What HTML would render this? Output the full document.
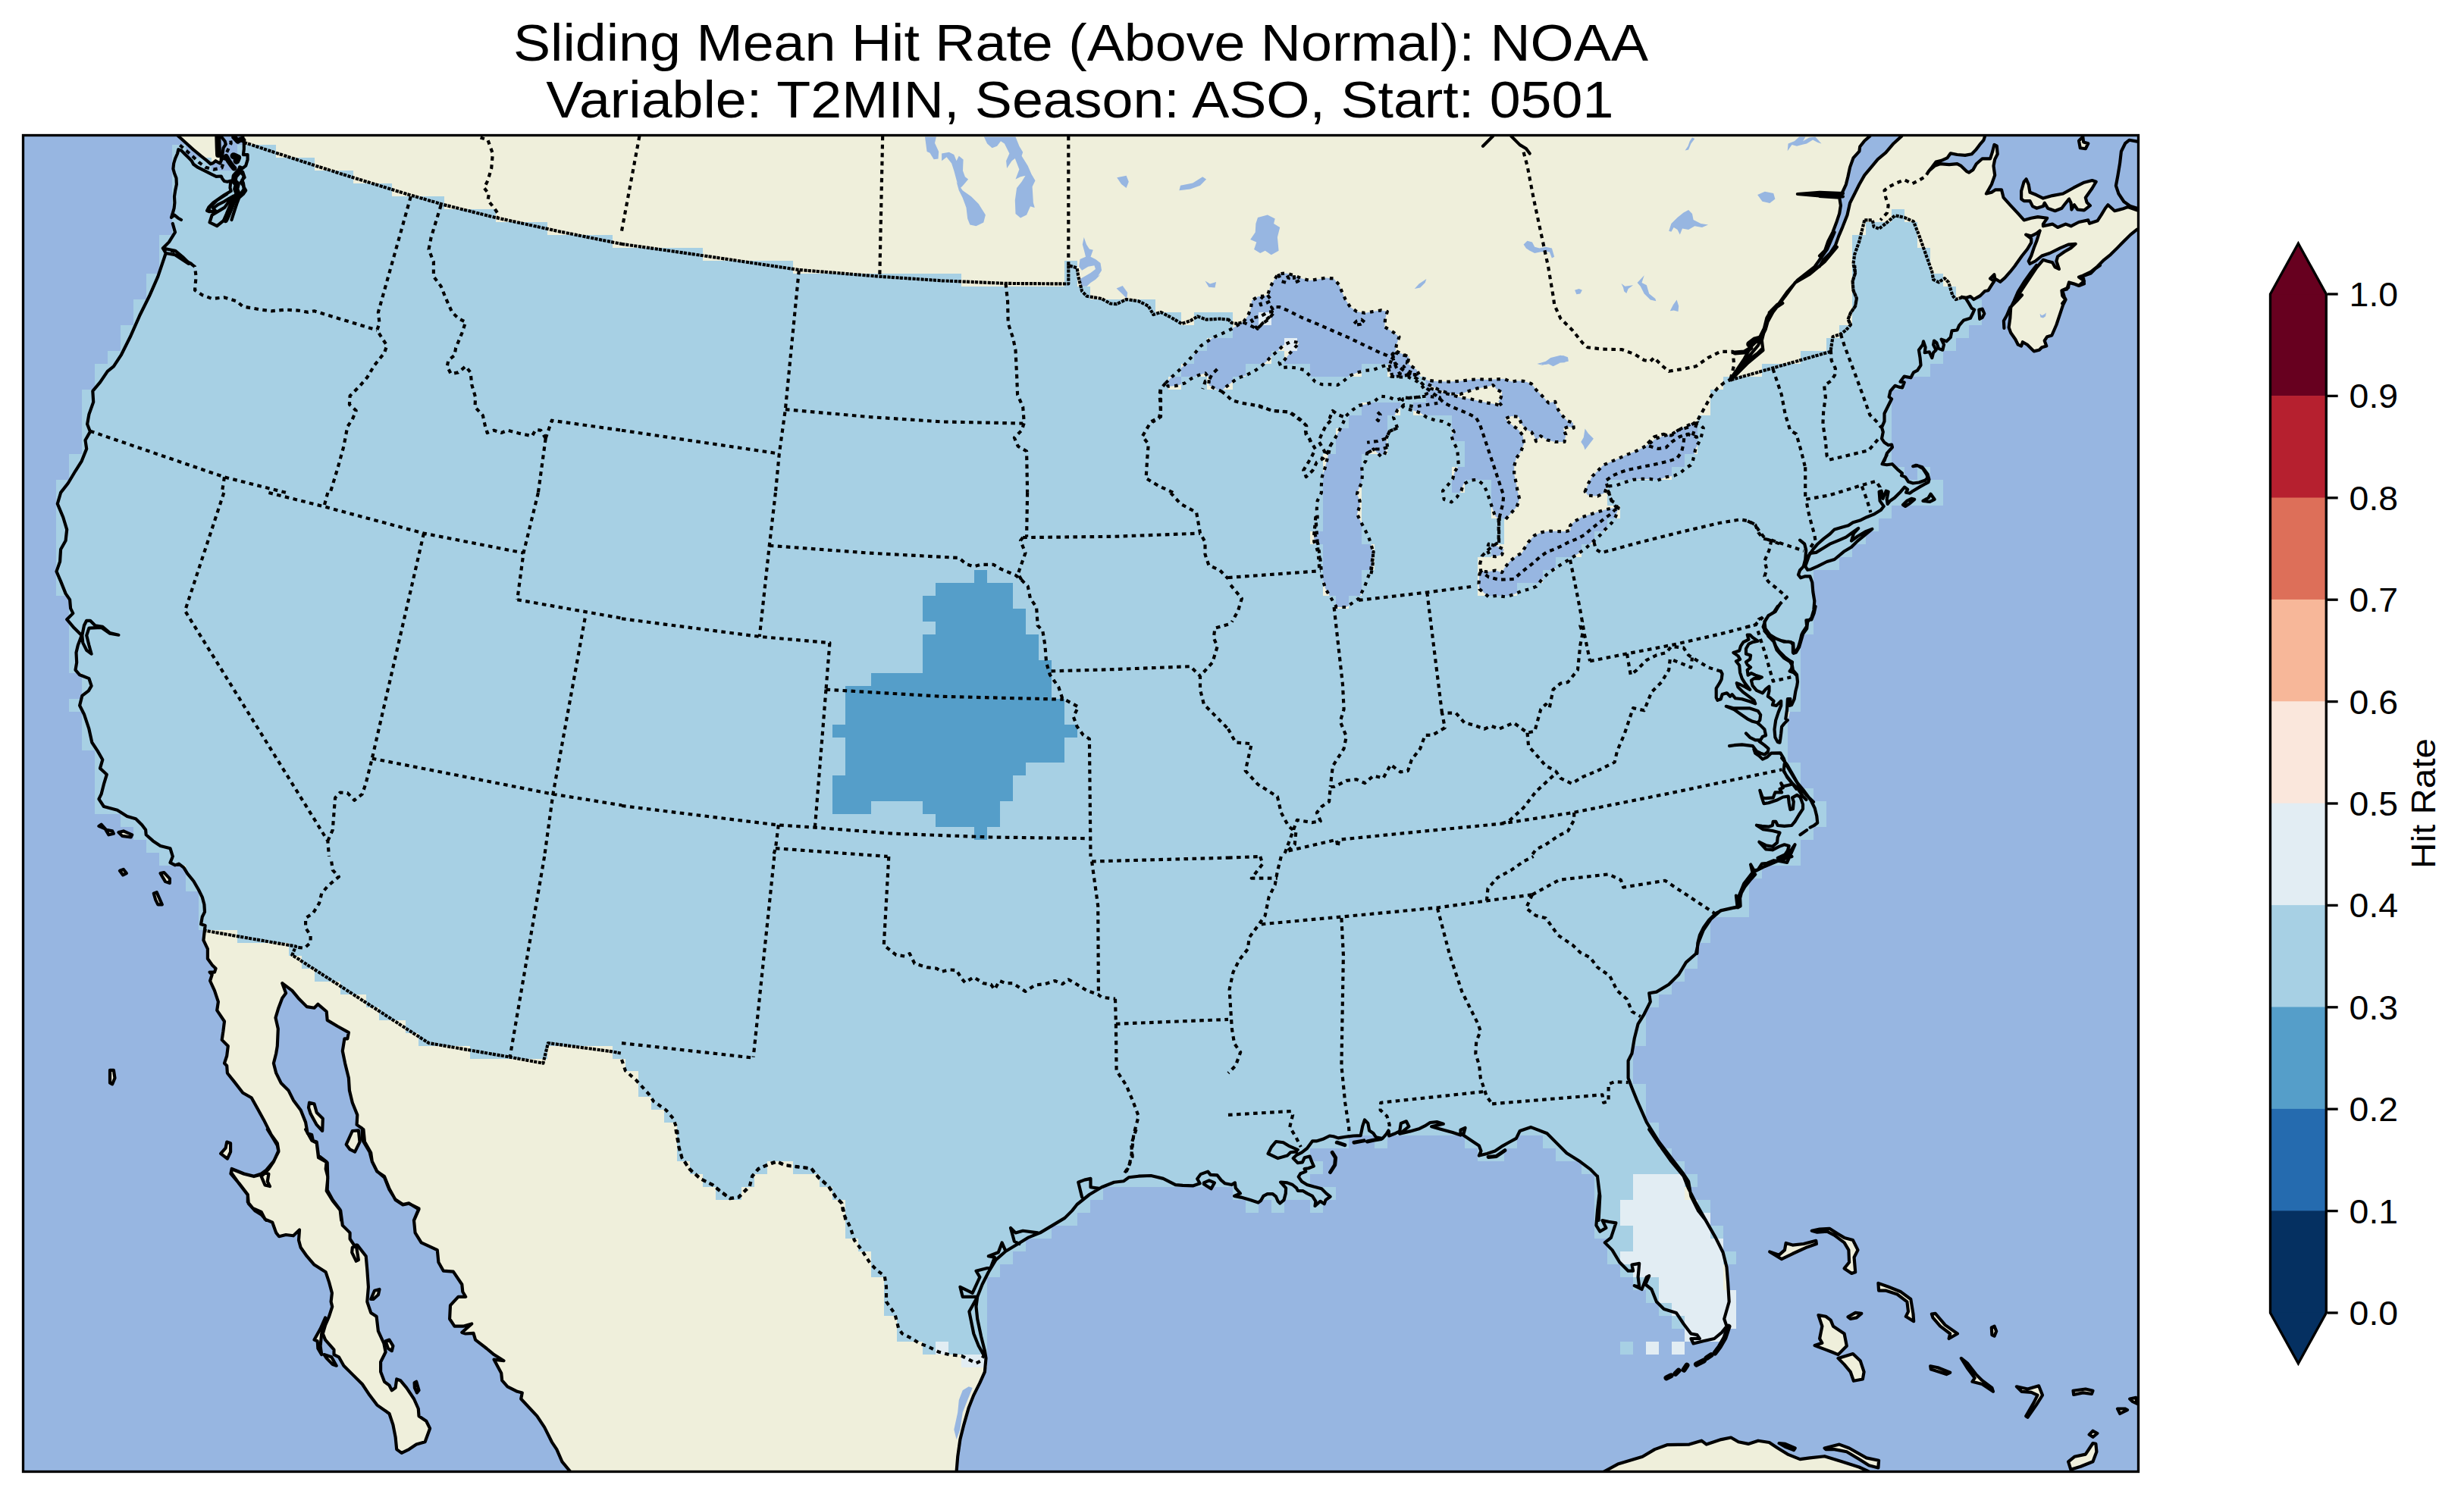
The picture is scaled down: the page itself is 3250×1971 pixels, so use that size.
<!DOCTYPE html>
<html><head><meta charset="utf-8"><title>Sliding Mean Hit Rate</title>
<style>
html,body{margin:0;padding:0;background:#fff}
svg{display:block}
text{font-family:"Liberation Sans",sans-serif;fill:#000}
</style></head><body>
<svg xmlns="http://www.w3.org/2000/svg" width="3250" height="1971" viewBox="0 0 3250 1971">
<rect width="3250" height="1971" fill="#fff"/>
<defs><clipPath id="fr"><rect x="30.5" y="178.5" width="2790.0" height="1763.0"/></clipPath></defs>
<g clip-path="url(#fr)">
<rect x="30.5" y="178.5" width="2790.0" height="1763.0" fill="#97b6e1"/>
<path d="M322.0 178.5 L2466.3 178.5 L2466.3 179.6 L2459.3 185.7 L2453.2 193.6 L2452.4 199.7 L2444.5 208.4 L2440.1 220.6 L2437.5 232.8 L2434.9 243.3 L2429.7 254.6 L2424.4 257.3 L2400.0 255.5 L2400.0 259.0 L2426.2 260.7 L2427.9 271.2 L2426.2 281.7 L2422.7 292.2 L2417.5 306.1 L2411.3 318.3 L2407.0 330.6 L2400.0 337.5 L2393.0 352.0 L2400.0 351.5 L2405.2 342.8 L2414.0 334.0 L2420.9 323.6 L2425.3 311.4 L2430.5 299.1 L2436.6 283.4 L2440.1 267.7 L2445.4 257.3 L2452.4 243.3 L2459.3 231.1 L2468.1 220.6 L2476.8 210.1 L2487.3 201.4 L2497.7 189.2 L2508.2 179.6 L2508.2 178.5 L2618.1 178.5 L2618.1 179.6 L2616.4 184.8 L2611.2 190.9 L2605.9 197.9 L2600.7 203.2 L2592.0 204.9 L2581.5 204.0 L2572.8 202.3 L2568.4 208.4 L2560.6 211.9 L2553.6 213.6 L2548.3 220.6 L2544.0 225.8 L2551.8 218.9 L2558.8 216.2 L2571.0 217.1 L2581.5 216.2 L2586.7 218.9 L2593.7 225.8 L2597.2 227.6 L2602.4 224.1 L2606.8 216.2 L2614.7 209.3 L2625.1 209.3 L2627.7 201.4 L2630.4 190.9 L2633.8 192.7 L2634.7 203.2 L2631.2 210.1 L2629.5 218.9 L2631.2 231.1 L2626.9 243.3 L2619.9 255.5 L2626.9 253.8 L2632.1 250.3 L2640.0 250.3 L2642.6 260.7 L2651.3 270.3 L2661.8 281.7 L2669.6 290.4 L2679.2 287.8 L2687.9 286.1 L2700.2 287.8 L2694.9 295.6 L2694.9 298.3 L2707.1 295.6 L2714.1 300.0 L2724.6 295.6 L2731.6 298.3 L2742.0 293.0 L2754.3 290.4 L2756.0 294.8 L2766.5 291.3 L2771.7 283.4 L2776.9 274.7 L2780.4 270.3 L2789.2 278.2 L2799.6 275.6 L2806.6 273.0 L2818.8 277.3 L2820.5 277.3 L2820.5 302.6 L2810.1 309.6 L2801.4 318.3 L2792.7 327.1 L2783.9 335.8 L2775.2 342.8 L2766.5 351.5 L2757.8 358.5 L2747.3 363.7 L2742.0 365.5 L2749.0 370.7 L2742.0 376.8 L2735.1 374.2 L2729.0 372.4 L2728.1 379.4 L2720.2 382.9 L2722.8 391.6 L2724.6 395.1 L2720.2 400.4 L2719.4 383.2 L2720.2 390.1 L2724.6 395.4 L2721.1 402.4 L2717.6 412.8 L2712.4 428.5 L2706.3 442.5 L2700.2 444.2 L2696.7 449.5 L2699.3 456.5 L2693.2 458.2 L2689.7 461.7 L2682.7 463.4 L2674.0 454.7 L2667.9 451.2 L2666.1 456.5 L2661.8 454.7 L2658.3 447.7 L2652.2 439.0 L2649.6 432.0 L2651.3 419.8 L2652.2 405.8 L2656.5 397.1 L2661.8 384.9 L2670.5 370.9 L2679.2 358.7 L2675.7 368.9 L2686.2 353.2 L2694.9 342.8 L2700.2 344.5 L2707.1 346.3 L2710.6 352.4 L2715.9 355.0 L2712.4 344.5 L2714.1 338.4 L2722.8 332.3 L2731.6 327.1 L2737.7 321.8 L2728.1 322.7 L2717.6 327.1 L2703.7 334.0 L2693.2 337.5 L2684.5 344.5 L2677.5 348.0 L2675.7 344.5 L2679.2 337.5 L2682.7 327.1 L2686.2 318.3 L2690.6 304.4 L2686.2 307.9 L2679.2 311.4 L2672.2 309.6 L2679.2 314.8 L2679.2 320.1 L2674.0 328.8 L2667.0 337.5 L2658.3 350.0 L2651.3 358.7 L2644.3 366.6 L2638.2 371.8 L2631.2 367.5 L2630.4 362.2 L2625.1 367.5 L2630.4 370.9 L2626.9 376.2 L2622.5 383.2 L2618.1 384.0 L2612.0 390.1 L2603.3 395.0 L2598.9 391.0 L2593.7 392.8 L2592.8 393.6 L2597.2 400.6 L2600.7 406.7 L2604.2 408.5 L2602.4 412.8 L2598.9 419.8 L2590.2 422.4 L2584.1 429.4 L2581.5 435.5 L2574.5 436.4 L2572.8 445.1 L2567.5 450.3 L2560.6 447.7 L2564.0 454.7 L2562.3 461.7 L2557.1 459.9 L2554.4 452.1 L2551.0 449.5 L2550.1 454.7 L2553.6 461.7 L2550.1 465.2 L2548.3 472.2 L2544.8 464.3 L2538.7 465.2 L2539.6 458.2 L2537.0 450.3 L2536.1 454.7 L2530.9 461.7 L2532.6 472.2 L2533.5 481.8 L2529.1 488.7 L2523.9 491.4 L2520.4 498.3 L2511.7 496.6 L2506.5 503.6 L2511.7 504.4 L2509.1 511.4 L2504.7 510.6 L2499.5 508.8 L2493.4 515.8 L2491.6 523.6 L2495.1 526.3 L2490.7 535.0 L2485.5 545.5 L2485.5 555.9 L2482.0 563.8 L2483.8 569.9 L2482.0 578.6 L2485.5 583.8 L2490.7 587.3 L2495.1 586.5 L2496.0 590.0 L2489.0 597.8 L2485.5 607.9 L2488.7 600.0 L2482.6 612.2 L2495.8 612.2 L2509.0 624.4 L2517.1 635.5 L2531.3 636.5 L2542.5 630.4 L2536.4 618.3 L2527.3 613.8 L2535.4 616.2 L2544.5 632.5 L2551.6 658.8 L2545.5 661.9 L2533.4 660.9 L2521.2 657.8 L2510.0 665.9 L2498.9 660.9 L2489.7 664.9 L2484.7 668.0 L2480.6 673.1 L2472.5 678.1 L2462.3 682.2 L2454.2 686.2 L2451.2 697.0 L2469.4 698.0 L2460.3 705.5 L2450.2 713.6 L2442.0 721.8 L2431.9 727.8 L2419.7 738.0 L2409.6 741.0 L2397.4 747.1 L2388.3 751.2 L2384.2 751.8 L2381.2 760.3 L2387.3 760.3 L2390.3 768.4 L2391.3 780.6 L2393.3 792.8 L2392.3 805.0 L2389.3 815.1 L2384.2 820.2 L2383.2 829.3 L2378.1 836.4 L2376.1 843.5 L2373.1 853.7 L2369.0 860.8 L2365.9 861.8 L2360.6 871.6 L2364.0 873.3 L2363.2 882.0 L2365.8 887.3 L2370.2 891.6 L2371.0 899.5 L2370.2 904.7 L2368.4 911.7 L2366.7 922.2 L2363.2 930.0 L2357.9 950.1 L2353.6 954.4 L2350.1 958.8 L2349.2 967.5 L2348.3 974.5 L2347.5 979.7 L2348.3 993.4 L2352.7 1000.7 L2355.3 1007.7 L2357.1 1008.7 L2364.0 1020.9 L2371.0 1033.2 L2379.7 1043.6 L2388.5 1055.8 L2393.7 1066.3 L2396.3 1076.8 L2397.2 1085.5 L2392.8 1089.0 L2387.6 1091.6 L2374.5 1101.2 L2367.5 1114.3 L2357.1 1137.9 L2348.3 1136.1 L2339.6 1135.2 L2330.9 1138.7 L2323.9 1139.6 L2318.7 1147.5 L2315.2 1153.6 L2308.2 1161.4 L2301.2 1170.2 L2296.9 1178.0 L2295.1 1185.0 L2295.6 1195.5 L2283.8 1198.1 L2271.6 1200.7 L2262.8 1205.1 L2254.1 1213.8 L2247.1 1223.4 L2241.9 1233.8 L2239.3 1244.3 L2238.4 1257.9 L2223.9 1269.6 L2214.2 1285.8 L2201.2 1298.8 L2184.9 1308.6 L2175.2 1310.2 L2176.8 1321.6 L2168.7 1337.8 L2160.6 1350.8 L2155.7 1370.3 L2152.5 1389.7 L2147.6 1399.5 L2147.6 1422.2 L2152.5 1435.2 L2159.0 1451.4 L2171.9 1480.6 L2175.2 1490.0 L2188.2 1509.5 L2204.4 1532.2 L2220.6 1551.7 L2227.1 1567.9 L2236.9 1587.4 L2249.9 1610.1 L2262.9 1632.9 L2272.6 1652.3 L2277.5 1671.8 L2279.1 1691.3 L2280.7 1717.3 L2274.2 1740.0 L2277.5 1749.7 L2271.0 1757.9 L2261.2 1766.0 L2246.6 1769.2 L2233.6 1772.5 L2230.4 1766.0 L2241.8 1766.0 L2238.5 1761.1 L2230.4 1759.5 L2220.6 1746.5 L2210.9 1731.9 L2194.7 1727.0 L2184.9 1717.3 L2178.4 1701.0 L2170.3 1694.5 L2175.2 1683.2 L2171.9 1684.8 L2165.5 1701.0 L2155.7 1696.2 L2162.2 1697.8 L2160.6 1684.8 L2162.2 1666.9 L2152.5 1668.6 L2154.1 1676.7 L2147.6 1676.7 L2136.2 1665.3 L2126.5 1649.1 L2116.8 1639.4 L2124.9 1632.9 L2131.4 1613.4 L2121.6 1611.8 L2113.5 1610.1 L2118.4 1619.9 L2110.3 1624.7 L2105.4 1616.6 L2107.0 1597.1 L2109.6 1574.4 L2107.0 1551.7 L2107.0 1552.1 L2097.3 1542.3 L2084.3 1532.6 L2066.4 1521.2 L2051.8 1506.6 L2040.5 1495.3 L2019.4 1487.1 L2004.7 1492.0 L1999.9 1501.8 L1990.0 1507.2 L1982.3 1511.6 L1971.9 1518.5 L1961.4 1522.0 L1950.9 1524.6 L1953.5 1518.5 L1950.9 1511.6 L1940.4 1504.6 L1930.0 1497.6 L1932.6 1488.0 L1926.5 1490.6 L1926.5 1497.6 L1916.0 1494.1 L1900.3 1489.7 L1888.1 1486.2 L1903.8 1482.8 L1895.1 1480.1 L1886.3 1481.0 L1879.4 1485.4 L1872.4 1488.9 L1860.2 1492.4 L1846.2 1495.8 L1850.6 1492.4 L1858.4 1486.2 L1854.9 1479.3 L1847.9 1481.9 L1846.2 1492.4 L1839.2 1495.8 L1832.2 1498.5 L1831.4 1491.5 L1828.8 1495.8 L1823.5 1502.0 L1814.8 1500.2 L1811.3 1495.0 L1806.1 1491.5 L1804.3 1481.9 L1800.0 1477.5 L1797.3 1485.4 L1794.7 1498.1 L1785.1 1498.5 L1774.7 1499.7 L1765.1 1501.4 L1758.9 1499.3 L1753.7 1498.5 L1745.0 1502.8 L1736.3 1505.4 L1731.0 1505.4 L1724.0 1515.0 L1717.1 1520.3 L1710.1 1523.8 L1705.7 1528.1 L1711.8 1534.2 L1717.9 1533.4 L1720.6 1527.3 L1727.5 1525.5 L1730.2 1532.5 L1732.8 1538.6 L1725.8 1541.2 L1720.6 1542.1 L1722.3 1545.6 L1715.3 1548.2 L1712.7 1552.6 L1717.1 1558.7 L1724.0 1563.0 L1732.8 1565.6 L1743.2 1568.3 L1749.3 1574.4 L1754.6 1578.7 L1748.5 1583.1 L1746.7 1588.3 L1741.5 1584.8 L1734.5 1591.0 L1735.4 1584.8 L1731.0 1577.9 L1724.0 1574.4 L1718.8 1571.2 L1711.8 1570.9 L1710.1 1567.4 L1704.8 1563.0 L1697.9 1560.4 L1689.1 1559.5 L1696.1 1567.4 L1695.8 1574.4 L1693.5 1583.1 L1688.3 1587.5 L1685.6 1584.8 L1683.0 1578.7 L1678.7 1575.2 L1671.7 1575.2 L1666.5 1577.9 L1663.0 1584.0 L1659.5 1586.6 L1649.0 1583.1 L1636.8 1579.6 L1628.1 1577.9 L1635.9 1574.4 L1629.8 1567.4 L1628.9 1560.4 L1624.6 1563.0 L1624.6 1563.0 L1615.8 1561.3 L1610.6 1556.9 L1605.4 1550.3 L1596.6 1549.9 L1593.2 1545.6 L1583.6 1549.1 L1579.2 1555.2 L1582.7 1561.3 L1574.0 1564.3 L1560.0 1563.9 L1550.5 1563.1 L1534.3 1554.9 L1518.1 1551.0 L1501.8 1551.7 L1488.8 1553.3 L1482.3 1558.2 L1469.4 1559.8 L1453.1 1566.3 L1436.9 1576.0 L1420.6 1589.0 L1414.2 1597.1 L1404.4 1606.9 L1388.2 1616.6 L1371.9 1626.4 L1355.7 1632.9 L1342.7 1641.0 L1326.5 1650.7 L1313.5 1662.1 L1303.8 1678.3 L1295.6 1694.5 L1289.2 1710.8 L1287.5 1723.8 L1289.2 1740.0 L1294.0 1762.7 L1298.9 1782.2 L1300.5 1791.9 L1298.9 1809.8 L1292.4 1824.4 L1284.3 1840.6 L1277.8 1856.9 L1271.3 1879.6 L1266.4 1899.1 L1263.2 1921.8 L1261.6 1941.3 L1261.6 1941.5 L752.1 1941.5 L752.1 1941.3 L741.4 1928.3 L734.3 1912.1 L727.8 1902.3 L718.1 1882.9 L708.3 1868.2 L687.2 1845.5 L688.8 1837.4 L682.3 1835.8 L669.4 1829.3 L662.2 1821.2 L661.2 1811.4 L651.5 1793.6 L664.5 1795.2 L651.5 1787.1 L641.8 1779.0 L627.1 1767.6 L624.5 1758.8 L614.2 1759.5 L609.3 1757.9 L622.3 1746.5 L610.9 1749.7 L599.5 1749.7 L593.1 1740.0 L594.0 1722.1 L604.4 1710.8 L614.2 1710.8 L610.3 1704.3 L609.3 1694.5 L597.9 1677.7 L584.9 1676.7 L578.4 1665.3 L576.8 1649.1 L555.7 1639.4 L547.6 1626.4 L546.0 1610.1 L552.5 1595.5 L539.5 1587.4 L531.4 1589.0 L521.6 1582.5 L513.5 1569.5 L507.0 1553.3 L497.3 1545.2 L490.8 1532.2 L489.2 1520.8 L481.0 1506.2 L479.4 1490.0 L477.8 1488.8 L470.6 1483.9 L471.3 1470.9 L464.8 1454.7 L460.9 1438.4 L459.9 1422.2 L455.1 1402.7 L451.8 1386.5 L454.4 1370.3 L458.3 1370.3 L459.9 1362.1 L445.3 1354.0 L431.7 1345.9 L430.7 1334.5 L419.4 1324.8 L414.5 1329.7 L404.7 1328.1 L393.4 1316.7 L385.3 1306.9 L372.3 1297.2 L372.3 1297.2 L377.1 1310.2 L372.3 1316.7 L367.4 1329.7 L363.5 1342.7 L366.8 1357.3 L365.8 1380.0 L364.2 1389.7 L360.9 1402.7 L364.2 1415.7 L370.6 1428.7 L380.4 1438.4 L386.9 1451.4 L396.6 1464.4 L403.1 1480.6 L403.1 1490.0 L411.2 1504.6 L417.7 1507.9 L420.0 1527.3 L431.7 1533.8 L432.3 1554.9 L430.7 1571.2 L438.8 1584.2 L449.2 1597.1 L451.8 1616.6 L461.6 1626.4 L461.6 1634.5 L467.4 1643.2 L471.3 1642.6 L482.7 1657.2 L484.3 1675.1 L485.9 1697.8 L484.3 1717.3 L489.2 1731.9 L496.6 1736.8 L498.9 1756.2 L506.4 1772.5 L508.6 1783.8 L502.1 1796.8 L502.1 1809.8 L507.0 1822.8 L513.5 1827.7 L516.8 1834.2 L521.6 1830.9 L523.2 1819.5 L528.1 1821.2 L536.2 1830.9 L546.0 1845.5 L551.8 1858.5 L552.5 1868.2 L562.2 1874.7 L567.1 1884.5 L560.6 1902.3 L549.2 1905.6 L539.5 1912.1 L529.7 1916.9 L523.2 1912.1 L521.6 1895.8 L518.4 1879.6 L513.5 1865.0 L497.3 1853.6 L487.5 1840.6 L477.8 1826.0 L464.8 1813.1 L453.4 1801.7 L446.9 1790.3 L440.5 1787.1 L440.5 1780.6 L429.1 1767.6 L425.8 1759.5 L429.1 1748.1 L434.0 1736.8 L438.2 1723.8 L436.6 1717.3 L437.9 1705.9 L434.0 1691.3 L429.7 1678.3 L414.5 1668.6 L404.7 1657.2 L396.6 1645.8 L394.0 1636.1 L395.0 1622.5 L386.9 1630.3 L377.1 1629.0 L368.1 1631.2 L364.2 1626.4 L359.3 1612.7 L349.5 1608.5 L344.7 1598.8 L333.3 1593.9 L326.8 1585.8 L326.8 1576.0 L315.5 1561.4 L304.4 1548.4 L305.7 1541.9 L321.9 1548.4 L334.9 1551.7 L344.7 1548.4 L351.2 1543.6 L360.9 1532.2 L367.4 1519.2 L365.8 1511.1 L360.9 1503.0 L352.8 1490.0 L347.9 1477.4 L339.8 1462.8 L331.7 1448.2 L320.3 1441.7 L309.0 1427.1 L299.9 1415.7 L299.2 1406.0 L296.0 1402.7 L299.2 1393.0 L300.8 1380.0 L292.7 1371.9 L294.4 1360.5 L296.0 1347.5 L286.2 1332.9 L287.9 1321.6 L283.0 1306.9 L277.1 1294.0 L279.7 1285.8 L276.5 1282.6 L283.0 1282.6 L284.6 1277.7 L279.7 1272.9 L273.9 1264.7 L273.9 1251.8 L268.4 1240.4 L270.6 1220.9 L265.1 1219.3 L266.8 1209.5 L270.0 1203.1 L269.4 1193.3 L266.8 1183.6 L261.9 1173.8 L255.4 1162.5 L247.3 1152.7 L242.4 1144.6 L235.9 1139.7 L231.0 1141.4 L224.5 1138.1 L227.8 1130.0 L227.8 1129.9 L224.5 1119.2 L211.6 1115.9 L201.8 1109.4 L192.7 1101.3 L192.1 1094.8 L187.2 1088.3 L179.1 1080.2 L167.7 1076.9 L154.7 1068.8 L136.9 1064.0 L130.4 1054.2 L133.6 1047.7 L136.9 1034.7 L140.8 1021.8 L132.0 1013.6 L135.3 1002.3 L128.8 990.9 L121.3 979.5 L117.4 961.7 L110.9 942.2 L105.1 930.8 L108.3 917.9 L116.8 911.4 L120.6 904.9 L117.4 895.1 L105.1 890.3 L99.5 883.8 L101.2 874.0 L100.5 861.0 L102.8 851.3 L107.7 838.3 L97.9 828.6 L88.2 817.2 L96.3 809.1 L93.1 802.6 L92.1 791.2 L86.6 783.1 L80.1 766.9 L74.5 753.9 L79.1 740.9 L80.1 724.7 L86.6 713.3 L88.2 698.7 L83.3 682.5 L75.8 664.6 L80.1 650.0 L80.1 649.9 L89.8 637.5 L99.5 621.3 L107.7 608.3 L114.2 592.1 L112.5 580.7 L119.0 569.4 L115.1 559.6 L117.4 546.6 L123.2 530.4 L122.3 515.8 L132.0 504.4 L141.8 489.8 L149.9 483.3 L159.6 468.7 L172.6 442.7 L184.0 416.8 L196.9 390.8 L208.3 364.8 L218.7 334.0 L214.8 327.5 L222.9 319.4 L231.0 306.4 L227.8 295.0 L239.0 290.0 L234.9 287.7 L230.0 283.6 L226.0 286.9 L227.6 282.0 L229.6 274.7 L230.4 267.4 L230.0 259.3 L231.2 251.2 L232.9 243.1 L232.5 234.9 L230.0 228.4 L228.4 222.8 L229.2 215.5 L231.2 209.0 L234.1 202.5 L235.3 197.2 L235.3 197.2 L239.0 198.4 L243.8 203.3 L248.7 208.1 L252.8 212.2 L255.2 216.7 L260.1 220.3 L266.6 223.6 L273.1 226.8 L279.5 230.1 L285.2 232.9 L291.7 232.5 L293.3 235.7 L295.8 239.0 L299.8 239.8 L304.7 238.6 L303.9 243.1 L303.5 247.9 L304.7 252.0 L295.8 257.3 L289.3 261.7 L281.2 267.4 L275.5 273.1 L273.1 278.0 L276.3 279.2 L284.4 278.4 L281.2 274.7 L287.7 269.8 L305.0 260.0 L305.5 290.0 L308.0 282.0 L310.4 274.7 L312.8 267.4 L315.3 260.9 L320.9 256.0 L324.2 251.2 L321.8 247.1 L320.9 241.4 L319.3 237.4 L322.6 234.1 L320.1 226.8 L315.3 222.8 L316.1 220.3 L320.1 221.9 L324.2 218.7 L326.6 210.6 L326.6 204.1 L320.9 204.1 L321.8 196.8 L321.8 188.7 L320.1 179.7 Z" fill="#efefdb"/>
<path d="M235.7 178.9 L245.5 188.7 L255.2 197.6 L264.9 205.7 L273.1 212.2 L277.9 216.3 L281.2 215.0 L284.4 212.2 L287.7 214.2 L290.1 215.5 L291.7 212.2 L291.7 202.5 L290.9 194.4 L289.3 186.2 L288.5 178.9 Z" fill="#efefdb"/>
<path d="M130.4 1089.9 L138.5 1093.2 L143.4 1101.3 L149.9 1099.7 L148.2 1096.4 L140.1 1094.8 L133.6 1087.7 Z M156.4 1098.1 L162.9 1096.4 L174.2 1101.3 L172.6 1104.5 L161.2 1102.9 Z M344.7 1552.1 L349.5 1547.2 L354.4 1548.8 L352.8 1558.6 L356.0 1565.1 L349.5 1563.4 Z M291.1 1521.9 L297.6 1514.7 L299.2 1506.6 L304.1 1508.2 L304.1 1519.6 L299.9 1528.7 Z M145.0 1411.8 L149.9 1411.8 L151.5 1422.2 L148.2 1430.3 L145.0 1428.7 Z M158.0 1148.8 L162.9 1146.9 L166.8 1152.1 L162.2 1154.4 Z M211.6 1152.1 L216.4 1151.1 L223.9 1159.2 L223.9 1165.1 L218.1 1163.1 L214.8 1157.6 Z M202.8 1178.7 L206.7 1177.1 L211.6 1188.4 L213.8 1193.3 L208.3 1193.3 L205.1 1186.8 Z M456.7 1509.9 L464.8 1492.0 L472.9 1491.4 L474.5 1506.6 L468.1 1519.6 L461.6 1516.4 Z M408.0 1454.7 L414.5 1456.3 L417.7 1467.7 L425.8 1475.8 L425.2 1492.0 L417.7 1483.9 L409.6 1469.3 L407.0 1461.2 Z M414.5 1767.6 L422.6 1753.0 L429.1 1738.4 L429.7 1743.2 L424.2 1759.5 L422.6 1775.7 L424.2 1787.1 L419.4 1779.0 L418.7 1769.2 Z M427.5 1787.1 L437.2 1790.3 L443.7 1801.7 L438.8 1800.1 L430.7 1791.9 Z M464.8 1645.8 L469.7 1642.6 L472.9 1662.1 L469.7 1663.7 L464.2 1652.3 Z M489.2 1714.0 L494.0 1702.7 L500.5 1701.0 L498.9 1708.2 L492.4 1714.0 Z M508.6 1769.2 L513.5 1767.6 L518.4 1775.7 L516.8 1782.2 L511.9 1779.0 Z M546.6 1824.4 L549.2 1822.8 L552.5 1834.2 L549.9 1837.4 L546.9 1830.9 Z M2334.2 1651.4 L2349.8 1661.1 L2364.4 1654.0 L2383.9 1645.2 L2395.9 1641.0 L2395.3 1636.8 L2379.0 1641.0 L2364.4 1642.6 L2355.6 1640.0 L2354.0 1649.1 L2346.6 1655.6 Z M2389.7 1623.8 L2400.1 1621.5 L2413.1 1620.8 L2424.5 1628.0 L2432.6 1632.9 L2444.0 1636.1 L2450.5 1649.1 L2445.6 1658.8 L2447.2 1678.3 L2442.3 1679.9 L2432.6 1673.4 L2439.1 1665.3 L2438.4 1649.1 L2432.6 1639.4 L2419.6 1629.6 L2409.9 1624.7 L2396.9 1625.7 Z M2398.5 1735.1 L2408.2 1736.8 L2414.7 1741.6 L2418.0 1749.7 L2432.6 1759.5 L2435.8 1775.7 L2424.5 1787.1 L2416.4 1783.8 L2408.2 1780.6 L2393.6 1775.1 L2403.4 1771.8 L2400.1 1766.0 L2403.4 1749.7 Z M2424.5 1791.9 L2444.0 1786.1 L2453.7 1795.2 L2458.6 1809.8 L2456.9 1819.5 L2444.9 1821.8 L2440.7 1809.8 L2432.6 1800.1 Z M2477.4 1692.9 L2491.0 1697.8 L2507.3 1704.3 L2520.3 1714.0 L2523.5 1733.5 L2524.2 1743.2 L2513.8 1736.8 L2517.0 1730.3 L2515.4 1717.3 L2502.4 1707.5 L2487.8 1702.7 L2478.1 1702.7 Z M2437.5 1737.4 L2447.2 1731.9 L2455.3 1732.9 L2448.8 1738.4 L2440.7 1740.0 Z M2547.9 1733.5 L2552.7 1732.9 L2565.7 1748.1 L2581.9 1759.5 L2570.6 1766.0 L2572.2 1759.5 L2559.2 1749.7 L2549.5 1738.4 Z M2626.8 1751.4 L2630.6 1749.7 L2633.2 1756.2 L2630.6 1762.7 L2627.4 1761.1 Z M2546.2 1802.3 L2556.0 1804.3 L2572.2 1810.8 L2567.3 1813.1 L2552.7 1808.2 L2546.9 1806.6 Z M2586.8 1791.9 L2594.9 1798.4 L2606.3 1813.1 L2614.4 1821.2 L2627.4 1830.9 L2629.0 1835.8 L2614.4 1826.0 L2601.4 1822.8 L2604.7 1817.9 L2594.9 1804.9 Z M2659.9 1829.3 L2674.5 1832.5 L2689.1 1828.3 L2694.0 1840.6 L2685.8 1853.6 L2674.5 1869.9 L2672.2 1868.2 L2682.6 1850.4 L2687.5 1840.6 L2679.4 1836.8 L2666.4 1835.8 Z M2734.5 1834.8 L2750.8 1832.5 L2760.5 1834.8 L2758.9 1839.0 L2747.5 1837.4 L2735.2 1840.0 Z M2728.1 1928.3 L2736.2 1921.8 L2750.8 1918.6 L2760.5 1904.0 L2764.4 1904.9 L2765.4 1915.3 L2760.5 1928.3 L2744.3 1934.8 L2731.3 1938.7 Z M2755.6 1892.6 L2760.5 1887.7 L2766.4 1891.0 L2760.5 1895.8 Z M2793.0 1858.5 L2802.7 1858.5 L2806.0 1860.1 L2796.2 1865.0 Z M2809.2 1845.5 L2817.3 1843.9 L2819.0 1852.0 L2812.5 1848.8 Z M2346.6 1904.0 L2354.7 1904.9 L2367.7 1910.5 L2366.0 1913.1 L2354.7 1908.8 Z M2406.6 1910.5 L2426.1 1905.6 L2439.1 1910.5 L2461.8 1923.4 L2478.1 1926.7 L2477.4 1936.4 L2465.1 1933.2 L2452.1 1925.1 L2435.8 1915.3 L2419.6 1912.1 L2408.2 1912.1 Z M2381.2 747.1 L2387.3 729.9 L2395.4 728.9 L2405.5 722.8 L2413.6 717.7 L2425.8 712.6 L2434.9 708.6 L2442.0 703.5 L2451.2 697.0 L2445.1 703.5 L2442.0 713.6 L2450.2 707.5 L2460.3 701.5 L2469.4 698.0 L2460.3 705.5 L2450.2 713.6 L2442.0 721.8 L2431.9 727.8 L2419.7 738.0 L2409.6 741.0 L2397.4 747.1 L2388.3 751.2 L2384.2 751.8 Z M2510.0 665.9 L2515.1 660.9 L2521.2 657.8 L2525.2 658.8 L2519.2 663.9 L2513.1 668.0 Z M2536.4 660.9 L2543.5 656.8 L2546.6 651.7 L2551.6 658.8 L2545.5 661.9 Z M2610.3 408.5 L2614.7 407.6 L2617.3 413.7 L2614.7 418.9 L2611.2 420.7 Z M2666.1 262.5 L2666.1 252.0 L2669.6 239.8 L2672.6 236.3 L2675.7 243.3 L2677.5 253.8 L2686.2 257.3 L2694.9 261.6 L2707.1 258.1 L2721.1 255.5 L2735.1 247.7 L2749.0 240.7 L2759.5 238.1 L2764.7 239.8 L2759.5 248.5 L2750.8 260.7 L2752.5 266.9 L2756.9 271.2 L2749.0 277.3 L2740.3 276.5 L2735.9 270.3 L2732.4 276.5 L2731.6 267.7 L2729.0 262.5 L2722.8 270.3 L2719.4 274.7 L2710.6 278.2 L2701.0 274.7 L2696.7 267.7 L2694.9 272.1 L2686.2 274.7 L2681.0 272.1 L2677.5 265.1 L2669.6 265.1 Z M2742.0 185.7 L2747.3 180.5 L2748.2 187.5 L2754.3 189.2 L2750.8 196.2 L2743.8 195.3 Z M2096.0 1960.0 L2116.0 1941.3 L2133.9 1931.6 L2166.4 1921.8 L2182.6 1912.1 L2198.8 1906.2 L2228.1 1905.6 L2244.3 1900.7 L2250.8 1905.6 L2270.3 1899.1 L2283.2 1896.5 L2293.0 1902.3 L2306.0 1904.9 L2319.0 1900.7 L2333.6 1903.0 L2344.9 1910.5 L2357.9 1918.6 L2374.2 1925.1 L2387.1 1923.4 L2406.6 1921.2 L2429.4 1928.3 L2452.1 1935.5 L2465.1 1941.3 L2475.1 1960.0 Z M1587.9 1560.4 L1594.9 1557.3 L1601.9 1560.4 L1597.5 1568.3 L1587.9 1562.2 Z" fill="#efefdb"/>
<path d="M1220.0 180.4 L1234.9 180.4 L1233.0 188.8 L1238.2 199.9 L1237.5 209.6 L1231.7 210.3 L1226.5 201.8 L1222.6 199.9 Z M1242.1 202.5 L1251.8 200.8 L1258.3 204.1 L1261.6 212.2 L1264.8 205.7 L1270.6 210.6 L1270.0 225.2 L1272.9 233.3 L1277.1 236.6 L1269.7 245.3 L1266.4 248.6 L1262.2 239.8 L1258.3 225.2 L1255.1 215.5 L1248.6 207.3 L1242.1 212.2 Z M1261.6 239.8 L1269.7 251.2 L1281.0 259.3 L1290.8 269.0 L1299.9 283.6 L1297.3 293.4 L1287.5 298.2 L1279.4 296.6 L1276.2 288.5 L1274.5 273.9 L1269.7 260.9 L1264.8 251.2 Z M1297.9 180.4 L1339.5 180.4 L1344.4 192.7 L1349.2 200.8 L1347.6 205.7 L1355.7 218.7 L1360.6 230.1 L1365.5 238.2 L1361.6 246.3 L1362.9 267.4 L1364.8 273.9 L1359.0 272.3 L1354.1 283.6 L1346.0 287.5 L1339.5 282.0 L1338.8 264.2 L1341.1 247.9 L1347.6 239.8 L1352.5 231.7 L1346.0 233.3 L1339.5 236.6 L1344.4 223.6 L1338.8 209.0 L1334.6 212.2 L1328.1 221.9 L1327.1 212.2 L1331.4 202.5 L1324.9 189.5 L1320.0 186.2 L1315.1 192.7 L1308.6 195.3 L1302.1 189.5 Z M1473.2 234.3 L1485.6 231.7 L1488.8 239.8 L1485.6 247.9 L1479.1 243.1 Z M1555.4 251.2 L1557.0 244.7 L1573.2 241.4 L1586.2 233.3 L1591.1 236.6 L1583.0 244.7 L1570.0 249.5 Z M1589.5 370.6 L1596.0 374.5 L1604.1 371.9 L1602.5 379.4 L1594.4 378.8 Z M1472.6 380.4 L1480.7 377.1 L1487.2 385.9 L1486.2 394.0 L1480.7 388.2 Z M1659.0 286.9 L1671.9 283.6 L1681.7 288.5 L1680.1 295.0 L1688.2 299.9 L1684.9 312.9 L1686.6 330.7 L1676.8 336.2 L1668.7 330.7 L1662.2 334.0 L1654.1 329.1 L1657.3 319.4 L1649.2 316.1 L1655.7 306.4 L1656.4 295.0 Z M2318.1 257.0 L2327.8 252.8 L2339.2 255.1 L2341.4 262.5 L2334.3 268.1 L2324.5 265.8 Z M1269.7 1834.2 L1277.8 1829.3 L1282.7 1830.9 L1276.2 1847.1 L1269.7 1863.4 L1266.4 1886.1 L1261.6 1899.1 L1258.3 1886.1 L1263.2 1863.4 L1264.8 1847.1 Z M2690.6 413.7 L2693.2 416.3 L2696.7 414.6 L2698.8 412.5 L2698.1 417.2 L2694.9 419.5 L2691.4 418.4 Z M1537.5 505.4 L1546.2 496.7 L1554.9 488.8 L1561.9 481.8 L1568.9 474.0 L1576.7 465.2 L1583.7 456.5 L1592.4 450.4 L1602.0 444.3 L1612.5 439.9 L1623.0 434.7 L1631.7 429.5 L1640.4 424.2 L1645.6 417.3 L1650.0 406.8 L1651.2 396.3 L1659.6 391.1 L1666.6 390.7 L1672.2 389.0 L1675.3 378.9 L1679.7 371.0 L1685.8 361.4 L1696.3 360.5 L1706.7 363.2 L1717.2 367.5 L1727.7 370.1 L1738.1 368.4 L1748.6 366.6 L1759.1 367.5 L1766.1 375.4 L1770.4 385.8 L1774.8 395.4 L1780.9 405.0 L1789.6 411.1 L1800.1 412.9 L1810.6 411.1 L1821.9 409.4 L1829.8 411.1 L1827.1 420.7 L1826.3 431.2 L1837.6 438.2 L1845.5 444.3 L1842.0 454.8 L1840.2 465.2 L1848.1 467.9 L1858.6 470.5 L1856.8 479.2 L1851.6 483.6 L1855.1 488.8 L1862.0 491.4 L1868.2 494.0 L1856.8 494.9 L1848.1 495.8 L1836.7 497.5 L1834.1 487.1 L1832.4 480.4 L1822.8 483.6 L1811.4 487.9 L1801.0 488.8 L1790.5 491.4 L1780.0 495.8 L1772.2 502.8 L1764.3 508.0 L1753.8 507.1 L1743.4 507.1 L1734.7 503.6 L1727.7 495.8 L1719.8 487.9 L1709.3 485.3 L1698.0 484.4 L1690.2 485.3 L1687.5 478.3 L1692.8 476.6 L1699.7 467.9 L1706.7 460.0 L1713.7 452.2 L1703.2 450.4 L1692.8 455.6 L1684.9 463.5 L1677.1 469.6 L1671.0 476.6 L1663.1 483.6 L1654.4 489.7 L1643.9 494.9 L1633.4 498.4 L1624.7 504.5 L1616.9 510.6 L1610.7 515.9 L1602.0 512.4 L1594.2 508.0 L1595.0 499.3 L1589.8 492.3 L1581.1 494.9 L1571.5 499.3 L1562.8 505.4 L1551.4 508.9 L1540.9 509.7 Z M1841.9 463.5 L1857.6 470.5 L1855.8 479.2 L1868.9 487.9 L1873.3 497.5 L1883.8 501.9 L1897.7 503.3 L1911.7 503.6 L1925.6 502.8 L1939.6 501.0 L1950.1 500.1 L1960.6 501.0 L1971.0 500.5 L1983.2 499.8 L1993.7 503.6 L2000.7 502.4 L2009.4 502.8 L2019.9 506.2 L2026.0 514.1 L2033.8 522.0 L2042.6 531.6 L2051.3 529.8 L2053.0 536.8 L2058.3 545.5 L2067.0 555.1 L2074.9 557.7 L2075.7 564.7 L2068.8 563.0 L2061.8 565.6 L2065.3 573.4 L2063.5 583.0 L2051.3 583.0 L2040.8 580.4 L2032.1 575.2 L2026.0 582.2 L2024.2 576.1 L2019.9 569.9 L2012.9 566.5 L2006.8 559.5 L2003.3 549.9 L1993.7 549.0 L1985.0 552.5 L1993.7 560.3 L2002.4 566.5 L2008.5 574.3 L2010.3 584.8 L2005.9 596.1 L1999.8 604.8 L1997.2 615.3 L1997.2 625.8 L1999.8 637.1 L2001.6 647.6 L2004.2 658.1 L2000.7 668.5 L1992.8 677.3 L1985.9 685.1 L1978.0 685.1 L1971.9 680.8 L1968.4 670.3 L1964.9 659.8 L1961.4 649.3 L1957.1 639.7 L1948.3 632.8 L1939.6 633.6 L1930.0 638.9 L1927.4 647.6 L1921.3 656.3 L1914.3 662.4 L1904.7 658.9 L1903.0 647.6 L1909.9 639.7 L1916.1 631.9 L1918.7 622.3 L1923.9 614.4 L1923.0 603.1 L1922.2 592.6 L1916.9 583.0 L1914.3 574.3 L1917.8 569.9 L1913.4 561.2 L1903.0 556.0 L1892.5 554.2 L1882.0 550.7 L1873.3 544.6 L1862.8 541.1 L1852.4 538.5 L1847.1 533.3 L1850.6 526.3 L1861.1 524.6 L1873.3 523.7 L1882.0 519.3 L1876.8 510.6 L1869.8 503.6 L1857.6 497.5 L1845.4 497.5 L1834.9 496.6 L1831.4 486.2 L1834.9 475.7 L1836.6 467.0 Z M2090.6 648.5 L2094.9 638.0 L2100.2 628.4 L2107.1 621.4 L2115.0 613.6 L2124.6 609.2 L2135.1 604.8 L2146.4 599.6 L2156.0 596.1 L2166.5 590.9 L2175.2 585.6 L2183.9 578.7 L2194.4 575.2 L2206.6 571.7 L2218.8 564.7 L2230.0 559.5 L2239.8 557.7 L2246.8 564.7 L2243.3 578.7 L2236.3 592.6 L2232.8 608.3 L2230.0 613.6 L2224.1 617.1 L2217.1 623.2 L2208.4 627.5 L2197.9 629.3 L2186.5 633.6 L2176.1 631.9 L2165.6 631.9 L2154.3 632.8 L2142.9 636.3 L2131.6 640.6 L2119.4 641.5 L2116.7 650.2 L2107.1 654.6 L2094.9 653.7 Z M2090.6 565.6 L2094.9 571.7 L2101.9 578.7 L2096.7 585.6 L2090.6 593.5 L2088.8 588.3 L2085.3 583.0 L2088.8 576.9 Z M2027.7 479.2 L2033.8 480.6 L2040.0 477.5 L2044.3 473.1 L2053.0 470.5 L2061.8 469.1 L2067.9 471.3 L2068.8 475.7 L2063.5 478.3 L2054.8 478.8 L2047.8 482.7 L2045.2 479.5 L2039.1 480.9 Z M1792.6 534.9 L1802.2 533.2 L1812.7 529.7 L1820.6 522.7 L1831.0 523.6 L1841.5 527.9 L1852.0 524.4 L1860.7 525.3 L1871.2 523.6 L1881.6 522.7 L1899.1 524.4 L1899.1 531.4 L1865.9 536.6 L1852.0 534.0 L1843.2 541.0 L1838.0 550.6 L1841.5 560.2 L1843.2 564.6 L1832.8 568.9 L1828.4 578.5 L1830.2 589.9 L1825.8 600.3 L1822.3 603.0 L1811.8 592.5 L1803.1 597.7 L1801.4 608.2 L1796.1 615.2 L1797.0 625.6 L1796.1 637.0 L1790.9 647.5 L1790.0 651.8 L1793.5 660.6 L1793.5 667.5 L1790.0 678.0 L1794.4 687.6 L1799.6 697.2 L1804.8 707.7 L1808.3 717.3 L1811.0 727.7 L1811.0 739.1 L1810.1 749.6 L1808.3 757.9 L1811.6 727.9 L1808.3 750.6 L1800.2 773.4 L1792.1 789.6 L1775.8 801.0 L1762.9 801.0 L1758.0 792.9 L1748.2 776.6 L1743.4 760.4 L1741.8 740.9 L1738.5 718.2 L1733.6 701.9 L1735.3 682.5 L1740.3 752.2 L1740.3 746.1 L1740.3 734.7 L1736.8 723.4 L1733.3 714.7 L1733.3 703.3 L1735.9 692.8 L1737.7 682.4 L1736.8 671.9 L1737.7 660.6 L1742.9 650.1 L1742.9 639.6 L1743.8 629.1 L1747.3 618.7 L1752.5 597.7 L1755.1 587.3 L1759.5 580.3 L1764.7 571.6 L1771.7 557.6 L1775.2 548.9 L1783.9 541.0 Z M2134.7 669.7 L2125.9 670.6 L2117.2 672.4 L2108.5 675.0 L2098.0 678.5 L2087.5 682.0 L2077.9 687.2 L2071.0 693.3 L2071.8 699.4 L2065.7 701.1 L2056.1 701.1 L2044.8 700.6 L2034.3 702.0 L2023.8 706.4 L2016.0 715.1 L2009.9 724.7 L2008.1 729.1 L2000.3 733.4 L1991.6 740.4 L1984.6 749.1 L1981.1 755.2 L1972.4 752.6 L1961.9 754.4 L1953.2 753.5 L1951.4 757.9 L1950.5 770.1 L1951.4 777.1 L1963.6 787.5 L1974.1 785.8 L1986.3 787.5 L1996.8 784.0 L2007.3 779.7 L2017.7 777.1 L2026.5 773.6 L2033.4 764.8 L2041.3 757.0 L2050.9 750.0 L2060.5 743.9 L2070.1 737.8 L2082.3 729.9 L2091.0 723.8 L2100.6 715.1 L2110.2 706.4 L2117.2 698.5 L2125.9 689.8 L2131.2 681.1 Z M1967.1 718.6 L1974.1 720.3 L1983.7 724.7 L1981.1 731.7 L1972.4 734.3 L1965.4 733.4 L1961.0 724.7 L1963.6 717.7 Z M2009.6 322.6 L2014.5 317.7 L2021.0 319.4 L2024.2 325.8 L2030.7 327.5 L2038.8 325.8 L2046.9 327.5 L2050.2 338.8 L2046.9 340.5 L2043.7 332.3 L2032.3 332.3 L2024.2 334.0 L2017.7 330.7 L2012.9 327.5 Z M2201.2 304.7 L2204.4 295.0 L2212.5 286.9 L2220.6 280.4 L2227.1 277.1 L2232.0 282.0 L2233.6 290.1 L2243.4 295.0 L2253.1 296.6 L2245.0 299.9 L2235.3 298.2 L2227.1 303.1 L2219.0 301.5 L2215.8 309.6 L2212.5 303.1 L2207.7 299.9 L2204.4 305.7 Z M2168.7 363.2 L2165.5 372.9 L2171.9 376.2 L2175.2 387.5 L2183.3 394.0 L2184.3 397.3 L2176.8 395.6 L2168.7 387.5 L2163.8 377.8 L2159.6 372.9 Z M2138.5 373.9 L2143.4 377.8 L2154.1 376.2 L2147.6 381.0 L2145.3 386.9 L2142.1 384.3 L2141.1 379.4 Z M2202.8 410.3 L2207.0 402.1 L2211.6 395.6 L2214.2 403.8 L2213.5 410.9 L2207.7 409.6 Z M1865.8 381.0 L1871.6 374.5 L1881.4 368.1 L1879.7 372.9 L1873.2 379.4 Z M2077.1 382.7 L2082.7 381.0 L2086.9 382.7 L2084.3 387.5 L2079.4 388.2 Z M2232.0 181.4 L2235.3 183.0 L2230.4 189.5 L2227.1 197.6 L2222.6 198.6 L2226.5 192.7 L2228.8 186.2 Z M2357.7 199.2 L2358.6 189.5 L2366.8 186.2 L2373.2 180.4 L2381.4 180.4 L2378.1 186.2 L2386.2 181.4 L2394.4 180.4 L2402.5 189.5 L2397.6 187.9 L2391.1 184.6 L2383.0 189.5 L2376.5 191.1 L2370.0 192.7 L2363.5 191.1 Z M2027.5 480.1 L2038.8 476.8 L2045.3 471.9 L2058.3 468.7 L2068.1 471.9 L2068.7 476.8 L2058.3 478.4 L2048.6 483.3 L2042.1 480.1 L2034.0 481.7 Z M1429.7 312.9 L1433.0 322.6 L1436.9 328.4 L1441.8 329.7 L1438.5 338.8 L1445.0 342.1 L1451.5 346.9 L1453.1 356.7 L1448.2 364.2 L1451.5 362.2 L1445.0 368.7 L1438.5 372.9 L1433.6 377.8 L1426.5 377.8 L1424.5 368.1 L1430.4 364.8 L1438.5 359.9 L1445.0 355.1 L1443.4 350.2 L1435.3 351.8 L1427.1 356.7 L1423.2 351.8 L1424.5 342.1 L1432.0 338.8 L1430.4 332.3 L1427.8 322.6 Z" fill="#97b6e1"/>
<path d="M1883.8 507.1 L1897.7 514.1 L1911.7 519.3 L1925.6 520.2 L1937.9 515.8 L1948.3 512.4 L1960.6 510.6 L1969.3 508.0 L1974.5 514.1 L1981.5 517.6 L1979.7 524.6 L1976.3 529.8 L1981.5 535.9 L1972.8 533.3 L1962.3 531.6 L1950.1 528.9 L1939.6 526.3 L1927.4 524.6 L1915.2 521.1 L1901.2 517.6 L1887.3 512.4 Z" fill="#efefdb"/>
<g shape-rendering="crispEdges">
<path d="M227.4 191.0 H244.5 V208.0 H227.4 ZM312.7 191.0 H363.9 V208.0 H312.7 ZM227.4 208.0 H278.6 V225.0 H227.4 ZM312.7 208.0 H415.1 V225.0 H312.7 ZM227.4 225.0 H466.3 V242.0 H227.4 ZM227.4 242.0 H517.4 V259.0 H227.4 ZM227.4 259.0 H585.7 V276.0 H227.4 ZM227.4 276.0 H653.9 V293.0 H227.4 ZM2494.6 276.0 H2511.6 V293.0 H2494.6 ZM227.4 293.0 H722.2 V310.0 H227.4 ZM2460.5 293.0 H2528.6 V310.0 H2460.5 ZM210.4 310.0 H807.5 V327.0 H210.4 ZM2443.4 310.0 H2528.6 V327.0 H2443.4 ZM210.4 327.0 H926.9 V344.0 H210.4 ZM2443.4 327.0 H2545.7 V344.0 H2443.4 ZM210.4 344.0 H1046.3 V361.0 H210.4 ZM1404.3 344.0 H1421.4 V361.0 H1404.3 ZM2443.4 344.0 H2545.7 V361.0 H2443.4 ZM193.3 361.0 H1268.1 V378.0 H193.3 ZM1404.3 361.0 H1421.4 V378.0 H1404.3 ZM2443.4 361.0 H2562.7 V378.0 H2443.4 ZM193.3 378.0 H1438.4 V395.0 H193.3 ZM2443.4 378.0 H2579.7 V395.0 H2443.4 ZM176.2 395.0 H1523.6 V412.0 H176.2 ZM2443.4 395.0 H2613.8 V412.0 H2443.4 ZM176.2 412.0 H1557.7 V429.0 H176.2 ZM1574.7 412.0 H1625.8 V429.0 H1574.7 ZM2443.4 412.0 H2613.8 V429.0 H2443.4 ZM159.2 429.0 H1625.8 V446.0 H159.2 ZM2426.4 429.0 H2596.8 V446.0 H2426.4 ZM159.2 446.0 H1591.7 V463.0 H159.2 ZM2409.4 446.0 H2579.7 V463.0 H2409.4 ZM142.1 463.0 H1574.7 V480.0 H142.1 ZM1676.9 463.0 H1693.9 V480.0 H1676.9 ZM2375.3 463.0 H2562.7 V480.0 H2375.3 ZM125.0 480.0 H1557.7 V497.0 H125.0 ZM1642.8 480.0 H1728.0 V497.0 H1642.8 ZM1796.1 480.0 H1830.2 V497.0 H1796.1 ZM2324.2 480.0 H2545.7 V497.0 H2324.2 ZM125.0 497.0 H1540.6 V514.0 H125.0 ZM1557.7 497.0 H1591.7 V514.0 H1557.7 ZM1625.8 497.0 H1881.3 V514.0 H1625.8 ZM2273.1 497.0 H2511.6 V514.0 H2273.1 ZM108.0 514.0 H1881.3 V531.0 H108.0 ZM2256.1 514.0 H2494.6 V531.0 H2256.1 ZM108.0 531.0 H1796.1 V548.0 H108.0 ZM1847.2 531.0 H1864.3 V548.0 H1847.2 ZM2256.1 531.0 H2494.6 V548.0 H2256.1 ZM108.0 548.0 H1779.1 V565.0 H108.0 ZM1830.2 548.0 H1915.4 V565.0 H1830.2 ZM2239.0 548.0 H2494.6 V565.0 H2239.0 ZM108.0 565.0 H1762.1 V582.0 H108.0 ZM1830.2 565.0 H1915.4 V582.0 H1830.2 ZM2239.0 565.0 H2494.6 V582.0 H2239.0 ZM108.0 582.0 H1762.1 V599.0 H108.0 ZM1830.2 582.0 H1932.4 V599.0 H1830.2 ZM2239.0 582.0 H2494.6 V599.0 H2239.0 ZM90.9 599.0 H1745.0 V616.0 H90.9 ZM1796.1 599.0 H1932.4 V616.0 H1796.1 ZM2222.0 599.0 H2494.6 V616.0 H2222.0 ZM90.9 616.0 H1745.0 V633.0 H90.9 ZM1796.1 616.0 H1915.4 V633.0 H1796.1 ZM2205.0 616.0 H2511.6 V633.0 H2205.0 ZM2528.6 616.0 H2545.7 V633.0 H2528.6 ZM73.9 633.0 H1745.0 V650.0 H73.9 ZM1796.1 633.0 H1915.4 V650.0 H1796.1 ZM1932.4 633.0 H1966.5 V650.0 H1932.4 ZM2119.8 633.0 H2562.7 V650.0 H2119.8 ZM73.9 650.0 H1745.0 V667.0 H73.9 ZM1796.1 650.0 H1966.5 V667.0 H1796.1 ZM2119.8 650.0 H2562.7 V667.0 H2119.8 ZM73.9 667.0 H1745.0 V684.0 H73.9 ZM1796.1 667.0 H1966.5 V684.0 H1796.1 ZM2136.8 667.0 H2494.6 V684.0 H2136.8 ZM73.9 684.0 H1745.0 V701.0 H73.9 ZM1796.1 684.0 H1983.5 V701.0 H1796.1 ZM2119.8 684.0 H2477.5 V701.0 H2119.8 ZM73.9 701.0 H1728.0 V718.0 H73.9 ZM1796.1 701.0 H1983.5 V718.0 H1796.1 ZM2102.8 701.0 H2460.5 V718.0 H2102.8 ZM73.9 718.0 H1745.0 V735.0 H73.9 ZM1813.2 718.0 H1966.5 V735.0 H1813.2 ZM2085.7 718.0 H2443.4 V735.0 H2085.7 ZM73.9 735.0 H1745.0 V752.0 H73.9 ZM1813.2 735.0 H1949.4 V752.0 H1813.2 ZM2051.7 735.0 H2426.4 V752.0 H2051.7 ZM73.9 752.0 H1285.1 V769.0 H73.9 ZM1302.1 752.0 H1745.0 V769.0 H1302.1 ZM1796.1 752.0 H1949.4 V769.0 H1796.1 ZM2034.6 752.0 H2392.3 V769.0 H2034.6 ZM73.9 769.0 H1234.0 V786.0 H73.9 ZM1336.2 769.0 H1745.0 V786.0 H1336.2 ZM1796.1 769.0 H1949.4 V786.0 H1796.1 ZM2000.6 769.0 H2392.3 V786.0 H2000.6 ZM90.9 786.0 H1216.9 V802.9 H90.9 ZM1336.2 786.0 H1762.1 V802.9 H1336.2 ZM1779.1 786.0 H2392.3 V802.9 H1779.1 ZM90.9 802.9 H1216.9 V819.9 H90.9 ZM1353.2 802.9 H2392.3 V819.9 H1353.2 ZM90.9 819.9 H1234.0 V836.8 H90.9 ZM1353.2 819.9 H2392.3 V836.8 H1353.2 ZM90.9 836.8 H1216.9 V853.8 H90.9 ZM1370.3 836.8 H2375.3 V853.8 H1370.3 ZM90.9 853.8 H1216.9 V870.8 H90.9 ZM1370.3 853.8 H2375.3 V870.8 H1370.3 ZM90.9 870.8 H1216.9 V887.7 H90.9 ZM1387.3 870.8 H2375.3 V887.7 H1387.3 ZM108.0 887.7 H1148.7 V904.7 H108.0 ZM1387.3 887.7 H2375.3 V904.7 H1387.3 ZM108.0 904.7 H1114.6 V921.6 H108.0 ZM1387.3 904.7 H2375.3 V921.6 H1387.3 ZM90.9 921.6 H1114.6 V938.6 H90.9 ZM1404.3 921.6 H2375.3 V938.6 H1404.3 ZM108.0 938.6 H1114.6 V955.5 H108.0 ZM1404.3 938.6 H2358.3 V955.5 H1404.3 ZM108.0 955.5 H1097.5 V972.5 H108.0 ZM1421.4 955.5 H2358.3 V972.5 H1421.4 ZM108.0 972.5 H1114.6 V989.5 H108.0 ZM1404.3 972.5 H2358.3 V989.5 H1404.3 ZM125.0 989.5 H1114.6 V1006.4 H125.0 ZM1404.3 989.5 H2358.3 V1006.4 H1404.3 ZM125.0 1006.4 H1114.6 V1023.4 H125.0 ZM1353.2 1006.4 H2375.3 V1023.4 H1353.2 ZM125.0 1023.4 H1097.5 V1040.3 H125.0 ZM1336.2 1023.4 H2375.3 V1040.3 H1336.2 ZM125.0 1040.3 H1097.5 V1057.3 H125.0 ZM1336.2 1040.3 H2392.3 V1057.3 H1336.2 ZM125.0 1057.3 H1097.5 V1074.3 H125.0 ZM1148.7 1057.3 H1216.9 V1074.3 H1148.7 ZM1319.2 1057.3 H2409.4 V1074.3 H1319.2 ZM159.2 1074.3 H1234.0 V1091.2 H159.2 ZM1319.2 1074.3 H2409.4 V1091.2 H1319.2 ZM176.2 1091.2 H1285.1 V1108.2 H176.2 ZM1302.1 1091.2 H2392.3 V1108.2 H1302.1 ZM193.3 1108.2 H2375.3 V1125.1 H193.3 ZM210.4 1125.1 H2375.3 V1142.1 H210.4 ZM244.5 1142.1 H2324.2 V1159.0 H244.5 ZM244.5 1159.0 H2307.2 V1176.0 H244.5 ZM261.5 1176.0 H2307.2 V1193.0 H261.5 ZM261.5 1193.0 H2307.2 V1209.9 H261.5 ZM261.5 1209.9 H2256.1 V1226.9 H261.5 ZM312.7 1226.9 H2256.1 V1243.8 H312.7 ZM381.0 1243.8 H2239.0 V1260.8 H381.0 ZM398.0 1260.8 H2239.0 V1277.8 H398.0 ZM415.1 1277.8 H2222.0 V1294.7 H415.1 ZM449.2 1294.7 H2205.0 V1311.7 H449.2 ZM483.3 1311.7 H2187.9 V1328.6 H483.3 ZM500.4 1328.6 H2170.9 V1345.6 H500.4 ZM534.5 1345.6 H2170.9 V1362.6 H534.5 ZM551.6 1362.6 H2170.9 V1379.5 H551.6 ZM619.8 1379.5 H722.2 V1396.5 H619.8 ZM807.5 1379.5 H2153.9 V1396.5 H807.5 ZM824.5 1396.5 H2153.9 V1413.4 H824.5 ZM841.6 1413.4 H2153.9 V1430.4 H841.6 ZM841.6 1430.4 H2170.9 V1447.3 H841.6 ZM858.7 1447.3 H2170.9 V1464.3 H858.7 ZM875.7 1464.3 H2170.9 V1481.3 H875.7 ZM892.8 1481.3 H2187.9 V1498.2 H892.8 ZM892.8 1498.2 H1779.1 V1515.2 H892.8 ZM1813.2 1498.2 H1830.2 V1515.2 H1813.2 ZM1932.4 1498.2 H2000.6 V1515.2 H1932.4 ZM2034.6 1498.2 H2187.9 V1515.2 H2034.6 ZM892.8 1515.2 H1728.0 V1532.1 H892.8 ZM1949.4 1515.2 H1983.5 V1532.1 H1949.4 ZM2051.7 1515.2 H2205.0 V1532.1 H2051.7 ZM909.8 1532.1 H1012.2 V1549.1 H909.8 ZM1046.3 1532.1 H1745.0 V1549.1 H1046.3 ZM2085.7 1532.1 H2222.0 V1549.1 H2085.7 ZM926.9 1549.1 H995.1 V1566.1 H926.9 ZM1080.5 1549.1 H1728.0 V1566.1 H1080.5 ZM2102.8 1549.1 H2153.9 V1566.1 H2102.8 ZM2222.0 1549.1 H2239.0 V1566.1 H2222.0 ZM944.0 1566.1 H978.1 V1583.0 H944.0 ZM1097.5 1566.1 H1455.4 V1583.0 H1097.5 ZM1625.8 1566.1 H1762.1 V1583.0 H1625.8 ZM2102.8 1566.1 H2153.9 V1583.0 H2102.8 ZM1114.6 1583.0 H1438.4 V1600.0 H1114.6 ZM1642.8 1583.0 H1659.9 V1600.0 H1642.8 ZM1676.9 1583.0 H1693.9 V1600.0 H1676.9 ZM1728.0 1583.0 H1745.0 V1600.0 H1728.0 ZM2102.8 1583.0 H2136.8 V1600.0 H2102.8 ZM2239.0 1583.0 H2256.1 V1600.0 H2239.0 ZM1114.6 1600.0 H1421.4 V1616.9 H1114.6 ZM2102.8 1600.0 H2136.8 V1616.9 H2102.8 ZM1114.6 1616.9 H1387.3 V1633.9 H1114.6 ZM2102.8 1616.9 H2153.9 V1633.9 H2102.8 ZM2256.1 1616.9 H2273.1 V1633.9 H2256.1 ZM1131.6 1633.9 H1353.2 V1650.9 H1131.6 ZM2119.8 1633.9 H2153.9 V1650.9 H2119.8 ZM1148.7 1650.9 H1336.2 V1667.8 H1148.7 ZM2119.8 1650.9 H2136.8 V1667.8 H2119.8 ZM2273.1 1650.9 H2290.1 V1667.8 H2273.1 ZM1148.7 1667.8 H1319.2 V1684.8 H1148.7 ZM2136.8 1667.8 H2153.9 V1684.8 H2136.8 ZM1165.8 1684.8 H1302.1 V1701.7 H1165.8 ZM2153.9 1684.8 H2187.9 V1701.7 H2153.9 ZM1165.8 1701.7 H1302.1 V1718.7 H1165.8 ZM2170.9 1701.7 H2187.9 V1718.7 H2170.9 ZM1165.8 1718.7 H1302.1 V1735.6 H1165.8 ZM2187.9 1718.7 H2205.0 V1735.6 H2187.9 ZM1182.8 1735.6 H1302.1 V1752.6 H1182.8 ZM2205.0 1735.6 H2222.0 V1752.6 H2205.0 ZM1182.8 1752.6 H1302.1 V1769.6 H1182.8 ZM1216.9 1769.6 H1234.0 V1786.5 H1216.9 ZM1251.0 1769.6 H1302.1 V1786.5 H1251.0 ZM2136.8 1769.6 H2153.9 V1786.5 H2136.8 Z" fill="#a7d0e4"/>
<path d="M1285.1 752.0 H1302.1 V769.0 H1285.1 ZM1234.0 769.0 H1336.2 V786.0 H1234.0 ZM1216.9 786.0 H1336.2 V802.9 H1216.9 ZM1216.9 802.9 H1353.2 V819.9 H1216.9 ZM1234.0 819.9 H1353.2 V836.8 H1234.0 ZM1216.9 836.8 H1370.3 V853.8 H1216.9 ZM1216.9 853.8 H1370.3 V870.8 H1216.9 ZM1216.9 870.8 H1387.3 V887.7 H1216.9 ZM1148.7 887.7 H1387.3 V904.7 H1148.7 ZM1114.6 904.7 H1387.3 V921.6 H1114.6 ZM1114.6 921.6 H1404.3 V938.6 H1114.6 ZM1114.6 938.6 H1404.3 V955.5 H1114.6 ZM1097.5 955.5 H1421.4 V972.5 H1097.5 ZM1114.6 972.5 H1404.3 V989.5 H1114.6 ZM1114.6 989.5 H1404.3 V1006.4 H1114.6 ZM1114.6 1006.4 H1353.2 V1023.4 H1114.6 ZM1097.5 1023.4 H1336.2 V1040.3 H1097.5 ZM1097.5 1040.3 H1336.2 V1057.3 H1097.5 ZM1097.5 1057.3 H1148.7 V1074.3 H1097.5 ZM1216.9 1057.3 H1319.2 V1074.3 H1216.9 ZM1234.0 1074.3 H1319.2 V1091.2 H1234.0 ZM1285.1 1091.2 H1302.1 V1108.2 H1285.1 Z" fill="#559ec9"/>
<path d="M1659.9 412.0 H1676.9 V429.0 H1659.9 ZM1693.9 446.0 H1711.0 V463.0 H1693.9 ZM2153.9 1549.1 H2222.0 V1566.1 H2153.9 ZM2153.9 1566.1 H2222.0 V1583.0 H2153.9 ZM2136.8 1583.0 H2239.0 V1600.0 H2136.8 ZM2136.8 1600.0 H2256.1 V1616.9 H2136.8 ZM2153.9 1616.9 H2256.1 V1633.9 H2153.9 ZM2153.9 1633.9 H2273.1 V1650.9 H2153.9 ZM2136.8 1650.9 H2273.1 V1667.8 H2136.8 ZM2153.9 1667.8 H2273.1 V1684.8 H2153.9 ZM2187.9 1684.8 H2273.1 V1701.7 H2187.9 ZM2187.9 1701.7 H2290.1 V1718.7 H2187.9 ZM2205.0 1718.7 H2290.1 V1735.6 H2205.0 ZM2222.0 1735.6 H2290.1 V1752.6 H2222.0 ZM2222.0 1752.6 H2273.1 V1769.6 H2222.0 ZM1234.0 1769.6 H1251.0 V1786.5 H1234.0 ZM2170.9 1769.6 H2187.9 V1786.5 H2170.9 ZM2205.0 1769.6 H2222.0 V1786.5 H2205.0 ZM1268.1 1786.5 H1302.1 V1803.5 H1268.1 Z" fill="#e2edf3"/>
</g>
<g fill="none" stroke="#000" stroke-linejoin="round" stroke-linecap="butt">
<path d="M1537.5 505.4 L1546.2 496.7 L1554.9 488.8 L1561.9 481.8 L1568.9 474.0 L1576.7 465.2 L1583.7 456.5 L1592.4 450.4 L1602.0 444.3 L1612.5 439.9 L1623.0 434.7 L1631.7 429.5 L1640.4 424.2 L1645.6 417.3 L1650.0 406.8 L1651.2 396.3 L1659.6 391.1 L1666.6 390.7 L1672.2 389.0 L1675.3 378.9 L1679.7 371.0 L1685.8 361.4 L1696.3 360.5 L1706.7 363.2 L1717.2 367.5 L1727.7 370.1 L1738.1 368.4 L1748.6 366.6 L1759.1 367.5 L1766.1 375.4 L1770.4 385.8 L1774.8 395.4 L1780.9 405.0 L1789.6 411.1 L1800.1 412.9 L1810.6 411.1 L1821.9 409.4 L1829.8 411.1 L1827.1 420.7 L1826.3 431.2 L1837.6 438.2 L1845.5 444.3 L1842.0 454.8 L1840.2 465.2 L1848.1 467.9 L1858.6 470.5 L1856.8 479.2 L1851.6 483.6 L1855.1 488.8 L1862.0 491.4 L1868.2 494.0 L1856.8 494.9 L1848.1 495.8 L1836.7 497.5 L1834.1 487.1 L1832.4 480.4 L1822.8 483.6 L1811.4 487.9 L1801.0 488.8 L1790.5 491.4 L1780.0 495.8 L1772.2 502.8 L1764.3 508.0 L1753.8 507.1 L1743.4 507.1 L1734.7 503.6 L1727.7 495.8 L1719.8 487.9 L1709.3 485.3 L1698.0 484.4 L1690.2 485.3 L1687.5 478.3 L1692.8 476.6 L1699.7 467.9 L1706.7 460.0 L1713.7 452.2 L1703.2 450.4 L1692.8 455.6 L1684.9 463.5 L1677.1 469.6 L1671.0 476.6 L1663.1 483.6 L1654.4 489.7 L1643.9 494.9 L1633.4 498.4 L1624.7 504.5 L1616.9 510.6 L1610.7 515.9 L1602.0 512.4 L1594.2 508.0 L1595.0 499.3 L1589.8 492.3 L1581.1 494.9 L1571.5 499.3 L1562.8 505.4 L1551.4 508.9 L1540.9 509.7 Z M1841.9 463.5 L1857.6 470.5 L1855.8 479.2 L1868.9 487.9 L1873.3 497.5 L1883.8 501.9 L1897.7 503.3 L1911.7 503.6 L1925.6 502.8 L1939.6 501.0 L1950.1 500.1 L1960.6 501.0 L1971.0 500.5 L1983.2 499.8 L1993.7 503.6 L2000.7 502.4 L2009.4 502.8 L2019.9 506.2 L2026.0 514.1 L2033.8 522.0 L2042.6 531.6 L2051.3 529.8 L2053.0 536.8 L2058.3 545.5 L2067.0 555.1 L2074.9 557.7 L2075.7 564.7 L2068.8 563.0 L2061.8 565.6 L2065.3 573.4 L2063.5 583.0 L2051.3 583.0 L2040.8 580.4 L2032.1 575.2 L2026.0 582.2 L2024.2 576.1 L2019.9 569.9 L2012.9 566.5 L2006.8 559.5 L2003.3 549.9 L1993.7 549.0 L1985.0 552.5 L1993.7 560.3 L2002.4 566.5 L2008.5 574.3 L2010.3 584.8 L2005.9 596.1 L1999.8 604.8 L1997.2 615.3 L1997.2 625.8 L1999.8 637.1 L2001.6 647.6 L2004.2 658.1 L2000.7 668.5 L1992.8 677.3 L1985.9 685.1 L1978.0 685.1 L1971.9 680.8 L1968.4 670.3 L1964.9 659.8 L1961.4 649.3 L1957.1 639.7 L1948.3 632.8 L1939.6 633.6 L1930.0 638.9 L1927.4 647.6 L1921.3 656.3 L1914.3 662.4 L1904.7 658.9 L1903.0 647.6 L1909.9 639.7 L1916.1 631.9 L1918.7 622.3 L1923.9 614.4 L1923.0 603.1 L1922.2 592.6 L1916.9 583.0 L1914.3 574.3 L1917.8 569.9 L1913.4 561.2 L1903.0 556.0 L1892.5 554.2 L1882.0 550.7 L1873.3 544.6 L1862.8 541.1 L1852.4 538.5 L1847.1 533.3 L1850.6 526.3 L1861.1 524.6 L1873.3 523.7 L1882.0 519.3 L1876.8 510.6 L1869.8 503.6 L1857.6 497.5 L1845.4 497.5 L1834.9 496.6 L1831.4 486.2 L1834.9 475.7 L1836.6 467.0 Z M1792.6 534.9 L1802.2 533.2 L1812.7 529.7 L1820.6 522.7 L1831.0 523.6 L1841.5 527.9 L1852.0 524.4 L1860.7 525.3 L1871.2 523.6 L1881.6 522.7 L1899.1 524.4 L1899.1 531.4 L1865.9 536.6 L1852.0 534.0 L1843.2 541.0 L1838.0 550.6 L1841.5 560.2 L1843.2 564.6 L1832.8 568.9 L1828.4 578.5 L1830.2 589.9 L1825.8 600.3 L1822.3 603.0 L1811.8 592.5 L1803.1 597.7 L1801.4 608.2 L1796.1 615.2 L1797.0 625.6 L1796.1 637.0 L1790.9 647.5 L1790.0 651.8 L1793.5 660.6 L1793.5 667.5 L1790.0 678.0 L1794.4 687.6 L1799.6 697.2 L1804.8 707.7 L1808.3 717.3 L1811.0 727.7 L1811.0 739.1 L1810.1 749.6 L1808.3 757.9 L1811.6 727.9 L1808.3 750.6 L1800.2 773.4 L1792.1 789.6 L1775.8 801.0 L1762.9 801.0 L1758.0 792.9 L1748.2 776.6 L1743.4 760.4 L1741.8 740.9 L1738.5 718.2 L1733.6 701.9 L1735.3 682.5 L1740.3 752.2 L1740.3 746.1 L1740.3 734.7 L1736.8 723.4 L1733.3 714.7 L1733.3 703.3 L1735.9 692.8 L1737.7 682.4 L1736.8 671.9 L1737.7 660.6 L1742.9 650.1 L1742.9 639.6 L1743.8 629.1 L1747.3 618.7 L1752.5 597.7 L1755.1 587.3 L1759.5 580.3 L1764.7 571.6 L1771.7 557.6 L1775.2 548.9 L1783.9 541.0 Z M2134.7 669.7 L2125.9 670.6 L2117.2 672.4 L2108.5 675.0 L2098.0 678.5 L2087.5 682.0 L2077.9 687.2 L2071.0 693.3 L2071.8 699.4 L2065.7 701.1 L2056.1 701.1 L2044.8 700.6 L2034.3 702.0 L2023.8 706.4 L2016.0 715.1 L2009.9 724.7 L2008.1 729.1 L2000.3 733.4 L1991.6 740.4 L1984.6 749.1 L1981.1 755.2 L1972.4 752.6 L1961.9 754.4 L1953.2 753.5 L1951.4 757.9 L1950.5 770.1 L1951.4 777.1 L1963.6 787.5 L1974.1 785.8 L1986.3 787.5 L1996.8 784.0 L2007.3 779.7 L2017.7 777.1 L2026.5 773.6 L2033.4 764.8 L2041.3 757.0 L2050.9 750.0 L2060.5 743.9 L2070.1 737.8 L2082.3 729.9 L2091.0 723.8 L2100.6 715.1 L2110.2 706.4 L2117.2 698.5 L2125.9 689.8 L2131.2 681.1 Z M2090.6 648.5 L2094.9 638.0 L2100.2 628.4 L2107.1 621.4 L2115.0 613.6 L2124.6 609.2 L2135.1 604.8 L2146.4 599.6 L2156.0 596.1 L2166.5 590.9 L2175.2 585.6 L2183.9 578.7 L2194.4 575.2 L2206.6 571.7 L2218.8 564.7 L2230.0 559.5 L2239.8 557.7 L2246.8 564.7 L2243.3 578.7 L2236.3 592.6 L2232.8 608.3 L2230.0 613.6 L2224.1 617.1 L2217.1 623.2 L2208.4 627.5 L2197.9 629.3 L2186.5 633.6 L2176.1 631.9 L2165.6 631.9 L2154.3 632.8 L2142.9 636.3 L2131.6 640.6 L2119.4 641.5 L2116.7 650.2 L2107.1 654.6 L2094.9 653.7 Z M1967.1 718.6 L1974.1 720.3 L1983.7 724.7 L1981.1 731.7 L1972.4 734.3 L1965.4 733.4 L1961.0 724.7 L1963.6 717.7 Z M1883.8 507.1 L1897.7 514.1 L1911.7 519.3 L1925.6 520.2 L1937.9 515.8 L1948.3 512.4 L1960.6 510.6 L1969.3 508.0 L1974.5 514.1 L1981.5 517.6 L1979.7 524.6 L1976.3 529.8 L1981.5 535.9 L1972.8 533.3 L1962.3 531.6 L1950.1 528.9 L1939.6 526.3 L1927.4 524.6 L1915.2 521.1 L1901.2 517.6 L1887.3 512.4 Z" stroke-width="4.17" stroke-dasharray="4.6 6.44"/>
<path d="M214.8 327.5 L231.0 332.3 L244.0 343.7 L250.5 346.9 L257.0 351.8 L258.6 364.8 L257.0 382.7 L266.8 389.2 L279.7 394.0 L296.0 392.4 L312.2 397.3 L320.3 404.4 L344.7 408.6 L357.7 410.3 L377.1 408.6 L393.4 409.6 L406.4 411.9 L414.5 410.3 L497.3 435.6 M541.8 259.3 L498.9 411.9 L500.5 426.5 L497.3 435.6 L503.8 446.0 L510.3 455.7 L507.0 465.5 L494.0 481.7 L484.3 497.9 L474.5 509.3 L461.6 522.3 L460.9 533.6 L469.7 541.8 L464.8 553.1 L458.3 562.9 L453.4 588.8 L445.3 618.1 L435.6 649.9 M581.7 270.6 L568.7 312.9 L565.5 329.1 L571.9 345.3 L571.9 364.8 L581.7 377.8 L588.2 394.0 L596.3 411.9 L604.4 420.0 L614.2 424.9 L609.3 439.5 L601.2 459.0 L599.5 468.7 L591.4 475.2 L589.8 483.3 L594.7 493.1 L604.4 491.4 L614.2 483.3 L620.6 491.4 L622.3 507.7 L627.1 523.9 L626.5 536.9 L636.9 548.2 L640.1 562.9 L642.7 571.0 L651.5 567.7 L661.2 571.0 L669.4 567.7 L685.6 571.9 L701.8 575.2 L706.7 566.8 L713.2 567.7 L719.7 578.4 M633.6 181.4 L643.4 184.6 L649.9 202.5 L648.2 221.9 L643.4 238.2 L638.5 247.9 L645.0 256.0 L643.4 264.2 L651.5 273.9 L658.0 283.6 L656.4 287.5 M843.4 179.7 L820.0 304.7 M1164.2 179.7 L1160.3 364.2 M1409.3 179.7 L1409.3 350.2 M1053.8 356.7 L1035.9 540.1 L1027.8 598.6 L1022.9 649.9 M1035.9 540.1 L1144.7 549.9 L1242.1 556.4 L1349.2 558.6 M719.7 578.4 L727.8 554.7 L820.0 567.7 M820.0 567.7 L1027.8 598.6 M1326.5 373.9 L1329.1 397.3 L1329.7 426.5 L1336.2 446.0 L1339.5 462.2 L1341.1 494.7 L1342.1 520.6 L1349.2 536.9 L1350.8 558.0 L1347.6 567.7 L1337.9 577.5 L1342.7 588.8 L1354.1 595.3 L1355.1 649.9 M1531.0 514.2 L1531.0 549.9 L1518.1 556.4 L1506.7 575.8 L1514.8 585.6 L1513.2 605.1 L1511.6 631.0 L1527.8 640.8 L1547.3 649.9 M2009.6 200.8 L2014.5 218.7 L2022.6 260.9 L2032.3 306.4 L2042.1 351.8 L2049.2 394.0 L2050.2 402.1 L2058.3 420.0 L2074.5 436.2 L2087.5 452.5 L2094.0 458.3 L2113.5 460.6 L2139.5 461.2 L2155.7 467.1 L2168.7 475.2 L2176.8 476.8 L2181.7 471.9 L2191.4 481.7 L2201.2 489.8 L2220.6 486.6 L2236.9 483.3 L2253.1 471.9 L2269.4 463.8 L2285.6 463.8 L2287.2 481.7 L2282.3 501.2 M2338.4 486.6 L2349.8 520.6 L2354.7 546.6 L2361.2 567.7 L2369.3 572.6 L2375.8 595.3 L2380.6 614.8 M296.0 629.4 L292.7 649.9 M295.3 650.0 L244.0 805.8 L432.3 1109.4 L434.0 1129.9 M432.3 1109.4 L438.8 1094.8 L440.5 1072.1 L442.1 1052.6 L448.6 1045.5 L458.3 1046.1 L467.4 1055.8 L477.8 1047.7 L482.7 1033.1 L490.8 1000.6 M559.0 703.6 L490.8 1000.6 M119.0 568.7 L296.0 629.4 L377.1 649.9 M354.4 650.0 L425.8 667.9 L559.0 703.6 L690.5 729.5 M432.3 650.0 L427.5 667.9 M719.7 578.4 L709.9 649.9 M709.9 650.0 L690.5 729.5 L682.3 791.2 M682.3 791.2 L820.0 815.6 M771.6 815.6 L729.4 1047.7 L718.1 1129.9 M490.8 1000.6 L729.4 1047.7 L820.0 1062.3 M1022.9 650.0 L1014.8 719.8 L1001.8 839.9 M1014.8 719.8 L1144.7 729.5 L1264.8 736.0 L1274.5 744.2 L1284.3 747.4 L1294.0 744.8 L1310.3 744.8 L1320.0 750.6 L1339.5 758.8 L1347.6 765.3 L1355.7 773.4 L1359.0 789.6 L1367.1 801.0 L1368.7 825.3 L1375.2 831.8 L1378.4 851.3 L1380.1 874.0 L1384.9 890.3 L1396.3 906.5 L1401.2 921.1 L1422.3 932.5 L1415.8 945.5 L1420.6 958.4 L1428.8 969.8 L1436.9 974.7 L1438.5 1129.9 M820.0 816.2 L1001.8 839.9 L1094.4 848.1 L1089.5 909.7 M1089.5 909.7 L1242.1 918.8 L1402.8 922.7 M1089.5 909.7 L1074.9 1091.6 M820.0 1063.0 L1024.5 1088.3 L1074.9 1091.6 L1177.1 1099.7 L1307.0 1104.5 L1438.5 1106.2 M1026.8 1088.3 L1022.9 1119.2 L1019.7 1129.9 M1022.9 1119.2 L1170.6 1129.9 M1355.1 650.0 L1354.1 708.4 M1349.2 709.1 L1469.4 707.8 L1583.0 703.6 M1349.2 709.1 L1346.0 713.3 L1352.5 729.5 L1342.7 757.1 L1347.6 765.3 M1544.0 650.0 L1557.0 664.6 L1578.1 676.0 L1583.0 703.6 L1589.5 714.9 L1589.5 731.2 L1594.4 745.8 L1609.0 752.3 L1620.0 763.6 M1386.6 885.4 L1469.4 883.1 L1570.0 879.2 L1583.0 891.9 M1620.0 823.7 L1602.5 828.6 L1600.8 841.6 L1605.7 852.9 L1599.2 874.0 L1583.0 891.9 L1583.0 909.7 L1587.9 929.2 L1599.2 940.6 L1620.0 961.7 M1620.0 762.0 L1741.8 753.2 M1623.2 771.8 L1637.9 789.6 L1633.0 805.8 L1624.9 820.5 M1620.0 961.7 L1629.7 979.5 L1650.8 981.2 L1642.7 1016.9 L1659.0 1034.7 L1684.9 1051.0 L1689.8 1072.1 L1699.5 1089.9 L1709.3 1098.1 L1707.7 1114.3 L1694.7 1125.6 M1759.6 801.0 L1764.5 844.8 L1771.0 903.2 L1772.6 935.7 L1767.7 951.9 L1775.8 971.4 L1772.6 987.7 L1758.0 1010.4 L1754.7 1038.0 M1694.7 1125.6 L1710.9 1081.8 L1730.4 1085.1 L1741.8 1083.4 L1736.9 1072.1 L1743.4 1064.0 L1753.1 1057.5 L1754.7 1038.0 L1759.6 1038.0 L1775.8 1029.9 L1788.8 1028.2 L1800.2 1033.1 L1811.6 1023.4 L1824.5 1026.6 L1834.3 1008.8 L1847.3 1018.5 L1857.0 1016.9 L1861.9 1002.3 L1873.2 987.7 L1879.7 969.8 L1889.5 969.8 L1905.7 960.1 L1902.5 942.2 L1901.8 940.6 L1920.3 940.6 L1931.7 953.6 L1944.7 956.8 L1957.7 961.7 L1967.4 957.8 L1977.1 961.7 L1996.6 953.6 L2014.5 966.6 L2024.2 964.9 L2032.3 935.7 L2038.8 929.2 L2043.7 934.1 L2048.6 909.7 L2058.3 901.6 L2068.1 900.0 L2081.0 883.8 L2084.3 851.3 L2087.5 835.1 L2084.3 825.3 L2087.5 818.8 M1882.3 781.5 L1901.8 939.0 M1792.1 791.9 L1882.3 781.5 L1944.7 773.4 M2014.5 966.6 L2016.1 984.4 L2029.1 999.0 L2038.8 1010.4 L2051.8 1016.9 M2048.6 1023.4 L2025.8 1044.5 L2009.6 1065.6 L1990.1 1083.4 L1980.4 1086.7 M2051.8 1016.9 L2058.3 1026.6 L2072.9 1033.8 L2087.5 1025.0 L2107.0 1016.9 L2129.7 1005.5 L2133.0 990.9 L2142.7 968.2 L2149.2 948.7 L2154.1 934.1 L2168.7 937.3 L2178.4 913.0 L2191.4 900.0 L2201.2 883.8 L2202.8 869.2 L2230.4 880.5 L2232.0 867.5 M2146.0 862.7 L2150.8 890.3 L2159.0 883.8 L2171.9 870.8 L2184.9 864.3 L2197.9 861.0 L2204.4 852.9 L2220.6 854.5 L2227.1 864.3 L2232.0 867.5 L2253.1 880.5 L2274.2 887.0 M437.2 1136.5 L438.8 1147.9 L446.9 1156.6 L432.3 1169.0 L424.2 1178.7 L421.0 1191.7 L412.9 1204.7 L403.1 1211.2 L403.1 1224.2 L409.6 1233.9 L409.6 1243.6 L401.5 1250.8 L390.1 1249.5 M718.1 1130.0 L672.6 1394.6 M1021.3 1130.0 L993.7 1394.6 M820.0 1376.1 L993.7 1395.6 M820.0 1397.9 L824.9 1412.5 L839.5 1425.5 L855.7 1443.3 L862.2 1453.1 L878.4 1464.4 L888.2 1475.8 L893.1 1490.4 L895.3 1513.1 L899.5 1527.7 L909.3 1542.3 L923.9 1555.3 L940.1 1563.4 L949.9 1571.6 L962.9 1581.3 L974.2 1579.7 L982.3 1571.6 L988.8 1565.1 L992.1 1552.1 L1000.2 1542.3 L1014.8 1535.8 L1024.5 1532.6 L1035.9 1537.5 L1053.8 1539.7 L1070.0 1541.7 L1079.7 1553.7 L1092.7 1565.1 L1102.5 1579.7 L1110.6 1587.8 L1115.5 1609.9 M1172.3 1130.0 L1165.8 1246.9 L1182.0 1259.9 L1193.4 1261.5 L1199.9 1258.2 L1206.4 1271.2 L1222.6 1276.1 L1235.6 1277.7 L1242.1 1281.9 L1251.8 1279.4 L1261.6 1280.0 L1268.1 1290.7 L1272.9 1296.2 L1284.3 1289.1 L1297.3 1297.2 L1307.0 1298.8 L1311.9 1305.3 L1318.4 1294.0 L1326.5 1297.2 L1336.2 1297.2 L1352.5 1307.9 L1365.5 1299.5 L1378.4 1298.2 L1391.4 1294.0 L1401.2 1298.2 L1409.3 1292.3 L1420.6 1298.8 L1433.6 1306.9 L1448.2 1311.8 L1453.1 1315.7 L1471.0 1317.7 M1440.1 1136.5 L1448.2 1194.9 L1448.9 1310.2 M1440.1 1136.5 L1620.0 1131.6 M1471.0 1317.7 L1471.9 1350.8 L1472.6 1412.5 L1485.6 1431.9 L1493.7 1451.4 L1501.8 1472.5 L1495.3 1496.9 L1492.1 1526.1 L1488.8 1539.1 L1484.0 1548.8 M1471.9 1350.8 L1620.0 1344.9 M1689.8 1130.0 L1684.9 1149.5 L1681.7 1167.3 L1673.6 1183.6 L1668.7 1207.9 L1660.6 1219.3 L1647.6 1237.1 L1646.0 1251.8 L1634.6 1266.4 L1626.5 1282.6 L1621.6 1305.3 L1623.2 1331.3 L1624.9 1357.3 L1628.1 1376.8 L1636.2 1388.1 L1629.7 1406.0 L1620.0 1415.7 M1662.2 1130.0 L1665.5 1139.7 L1650.8 1158.6 L1684.9 1158.6 M1663.8 1219.3 L1769.4 1209.5 L1896.0 1197.5 L1960.9 1188.4 L2021.0 1180.3 M1769.4 1211.2 L1771.9 1259.9 L1769.4 1406.0 L1774.2 1454.7 L1779.1 1487.1 L1779.7 1498.5 M1896.0 1198.2 L1912.2 1259.9 L1928.4 1308.6 L1939.8 1331.3 L1949.5 1350.8 L1952.8 1360.5 L1947.3 1373.5 L1946.3 1389.7 L1951.2 1406.0 L1952.8 1422.2 L1957.7 1436.8 L1960.9 1446.6 L1968.1 1456.3 M1831.0 1496.9 L1832.7 1483.9 L1829.4 1472.5 L1820.6 1464.4 L1821.3 1454.7 L1957.7 1440.1 M1968.1 1456.3 L2113.5 1444.3 L2115.1 1454.7 L2121.6 1453.1 L2121.6 1430.3 L2129.7 1427.1 L2147.6 1428.1 M1620.0 1470.9 L1702.8 1466.0 L1705.1 1470.9 L1701.2 1487.1 L1709.3 1500.1 L1715.8 1513.1 M2021.0 1180.3 L2012.9 1198.2 L2025.8 1207.9 L2038.8 1211.2 L2055.1 1233.9 L2074.5 1246.9 L2084.3 1256.6 L2097.3 1263.1 L2107.0 1276.1 L2123.2 1287.5 L2133.0 1306.9 L2146.0 1318.3 L2152.5 1334.5 L2163.8 1341.0 M2021.0 1180.3 L2056.7 1160.8 L2121.6 1153.4 L2137.9 1160.8 L2141.1 1170.6 L2196.3 1161.8 L2261.2 1204.7 M1960.9 1188.4 L1962.5 1172.2 L1975.5 1157.6 L1993.4 1147.9 L2009.6 1136.5 L2022.6 1130.0 M891.4 1490.0 L895.3 1512.7 L899.5 1527.3 L909.3 1541.9 L923.9 1554.9 L940.1 1563.1 L949.9 1571.2 L962.9 1580.9 L974.2 1579.3 L982.3 1571.2 L988.8 1564.7 L992.1 1551.7 L1000.2 1541.9 L1014.8 1535.5 L1024.5 1532.2 L1035.9 1537.1 L1053.8 1539.4 L1070.0 1541.3 L1079.7 1553.3 L1092.7 1564.7 L1102.5 1579.3 L1110.6 1587.4 L1112.2 1600.4 L1121.9 1619.9 L1126.8 1636.1 L1136.6 1649.1 L1147.9 1666.9 L1157.7 1676.7 L1166.8 1683.2 L1169.0 1697.8 L1169.0 1717.3 L1180.4 1733.5 L1185.3 1753.0 L1190.1 1759.5 L1203.1 1766.0 L1212.9 1772.5 L1222.6 1775.7 L1238.8 1783.8 L1251.8 1787.1 L1268.1 1788.7 L1277.8 1793.6 L1287.5 1798.4 L1294.0 1795.2 L1297.3 1788.7 M1498.6 1490.0 L1492.1 1509.5 L1493.7 1525.7 L1488.8 1538.7 L1480.7 1551.7 M2388.3 721.8 L2394.4 712.6 L2393.3 705.5 L2389.3 691.3 L2385.2 675.1 L2382.2 658.8 M2382.2 658.8 L2413.6 653.2 L2454.2 640.6 L2474.5 634.9 L2479.6 642.6 L2478.6 647.7 M2455.8 641.6 L2462.3 658.8 L2467.4 676.1 M2381.2 616.2 L2381.2 658.8 M2336.5 712.6 L2379.1 726.8 M2305.1 687.3 L2315.2 692.3 L2319.3 702.5 L2325.4 710.6 L2336.5 712.6 L2333.5 725.8 L2327.4 740.0 L2330.4 751.2 L2327.4 760.3 L2332.5 767.4 L2342.6 775.5 L2356.8 787.7 L2348.7 795.8 M2303.0 827.3 L2315.2 824.2 L2325.4 814.1 M2427.9 440.7 L2432.3 454.7 L2440.1 475.6 L2448.0 496.6 L2457.6 522.8 L2466.3 547.2 L2475.0 555.9 L2481.1 563.8 M2414.8 461.7 L2415.7 475.6 L2420.9 486.1 L2420.1 494.8 L2414.8 502.7 L2406.1 508.8 L2407.9 524.5 L2405.2 542.0 L2404.4 559.4 L2407.9 582.1 L2409.6 601.3 L2413.1 606.5 M2413.1 606.5 L2464.6 594.3 L2479.4 576.9 M2544.0 225.8 L2539.6 232.8 L2530.9 238.1 L2522.2 242.4 L2511.7 237.2 L2501.2 241.6 L2492.5 245.9 L2485.5 251.1 L2487.3 260.7 L2490.7 271.2 L2489.0 280.8 L2480.3 290.4 M2318.7 832.3 L2322.2 843.6 L2329.1 864.6 L2334.4 883.8 L2338.7 898.6 L2362.3 893.4 M1639.5 425.1 L1649.1 429.5 L1657.9 433.8 L1664.8 427.7 L1673.6 420.7 L1680.6 412.0 L1677.1 405.0 L1687.5 405.0 L1698.0 409.4 L1717.2 419.0 L1738.1 427.7 L1758.2 436.5 L1778.3 445.2 L1798.3 454.8 L1818.4 464.4 L1828.9 468.7 L1837.6 473.1 L1841.1 483.6 L1846.3 493.2 L1856.8 494.9 L1868.2 494.9 M1537.5 505.4 L1530.5 513.2 L1529.6 522.0 L1530.5 532.4 L1530.8 542.9 L1528.7 551.6 L1520.0 556.9 M1610.7 515.9 L1617.7 521.1 L1624.7 528.1 L1636.9 531.6 L1647.4 533.3 L1657.9 535.1 L1668.3 538.5 L1678.8 542.0 L1690.2 542.6 L1701.5 543.8 L1709.3 549.0 L1717.2 555.1 L1723.3 562.1 L1722.4 572.6 L1727.7 579.6 L1729.4 587.9 M1650.0 420.7 L1655.2 430.3 L1658.7 433.8 L1666.6 425.1 L1674.4 418.1 L1677.9 411.1 L1671.8 412.0 L1663.1 417.3 L1654.4 419.0 M1671.8 389.3 L1677.1 396.3 L1670.1 399.8 L1663.1 402.4 L1661.4 396.3 L1665.7 391.1 M1685.8 361.4 L1690.2 371.0 L1696.3 372.8 L1699.7 367.5 L1696.3 360.5 M1706.7 363.2 L1707.6 372.8 L1712.0 371.0 L1717.2 367.5 M1786.1 426.9 L1789.6 423.4 L1795.7 421.6 L1800.1 425.1 L1794.9 427.7 L1788.8 428.6 M1605.5 487.1 L1598.5 494.0 L1595.0 501.0 L1589.8 502.8 L1586.3 513.2 M1836.6 467.0 L1840.1 479.2 L1852.4 489.7 L1869.8 500.1 L1882.0 512.4 L1897.7 524.6 L1904.7 531.6 L1915.2 536.8 L1925.6 541.1 L1936.1 545.5 L1946.6 550.7 L1951.8 559.5 L1955.3 569.9 L1958.8 580.4 L1962.3 590.9 L1965.8 601.4 L1969.3 611.8 L1972.8 622.3 L1976.3 632.8 L1979.7 643.2 L1983.2 653.7 L1982.4 664.2 L1979.7 674.7 L1977.1 685.1 L1977.1 717.9 M2133.3 672.0 L2131.6 664.2 L2125.5 660.7 L2122.8 652.0 L2120.2 641.5 L2117.6 634.5 L2127.2 627.5 L2136.8 623.2 L2147.3 619.7 L2157.8 617.9 L2168.2 615.3 L2178.7 613.6 L2190.0 611.0 L2201.4 608.3 L2211.9 604.8 L2218.0 596.1 L2220.6 585.6 L2221.4 575.2 L2230.0 571.7 M1660.0 534.9 L1667.0 537.5 L1677.5 541.9 L1689.7 542.8 L1700.1 543.6 L1708.9 549.7 L1715.8 555.0 L1722.8 561.1 L1722.0 569.8 L1724.6 575.0 L1729.8 583.8 L1735.0 592.5 L1729.8 603.0 L1724.6 611.7 L1719.3 620.4 L1722.8 629.1 L1731.6 620.4 L1736.8 609.9 L1745.5 604.7 L1750.7 597.7 L1755.1 587.3 M1771.7 549.7 L1764.7 547.1 L1757.7 541.9 L1754.2 550.6 L1757.7 552.4 L1749.0 561.1 L1743.8 571.6 L1739.4 582.0 L1747.3 596.0 L1743.8 604.7 M1843.2 564.6 L1832.8 568.9 L1828.4 578.5 L1817.1 582.0 L1803.1 583.8 M1830.2 589.9 L1822.3 592.5 L1813.6 592.5 L1803.1 597.7 M1817.1 543.6 L1820.6 547.1 L1817.9 555.0 L1815.3 552.4 M1976.7 683.7 L1976.7 715.1 L1970.6 719.5 L1963.6 724.7 L1954.9 733.4 L1952.3 743.0 L1953.2 753.5 L1963.6 761.4 L1977.6 764.8 L1996.8 764.0 L2005.5 756.1 L2014.2 749.1 L2023.0 742.2 L2031.7 734.3 L2040.4 728.2 L2050.0 724.7 L2059.6 720.3 L2069.2 715.1 L2080.6 710.7 L2090.2 705.5 L2098.0 698.5 L2106.7 691.6 L2115.5 684.6 L2124.2 678.5 L2130.3 672.4 L2135.5 670.6 L2132.0 669.7 L2126.8 661.9 L2122.4 654.0 L2120.7 646.2 L2117.2 642.7 M2102.4 715.1 L2105.0 724.7 L2112.0 729.1 L2122.4 726.5 L2164.3 715.1 L2216.7 702.0 L2269.0 689.8 L2295.2 685.4 L2305.7 687.2 L2314.4 691.6 L2321.4 702.0 L2328.4 710.7 L2338.8 714.2 L2350.0 718.6 M2071.0 738.7 L2077.1 768.3 L2084.0 803.2 L2090.2 838.1 L2097.1 872.2 M2097.1 872.2 L2145.1 862.6 L2207.9 850.4 L2269.0 836.4 L2316.1 824.2 L2319.6 817.2 L2326.6 813.7 M237.3 191.5 L246.3 199.2 L254.4 206.5 L262.5 214.2 L271.0 220.7 L281.6 223.6 L292.5 221.5 L298.6 202.1 L304.7 189.1 L303.9 182.6 M1699.5 1122.4 L1762.9 1107.8 L1764.5 1117.5 L1766.1 1107.8 L1879.7 1096.4 L1980.4 1086.7 L2074.5 1072.1 L2204.4 1046.1 L2350.5 1015.3 M2076.2 1072.1 L2076.2 1081.8 L2068.1 1096.4 L2055.1 1102.9 L2038.8 1114.3 L2025.8 1120.8 L2019.4 1129.9 M1620.0 1131.6 L1662.2 1130.0 M2232.6 574.5 L2239.6 553.6 L2248.3 537.9 L2257.1 522.2 L2265.8 511.7 L2274.5 504.7 L2281.5 501.2 M2173.3 585.0 L2182.0 576.3 L2194.2 572.8 L2204.7 574.5 L2213.4 567.5 L2225.6 564.0 L2236.1 557.1 M2175.0 588.5 L2187.3 592.0 L2197.7 590.2 L2204.7 583.2 L2215.2 576.3 L2225.6 572.8 L2237.9 576.3 L2239.6 585.0" stroke-width="4.17" stroke-dasharray="5.6 5.44"/>
<path d="M321.9 187.9 L363.5 201.5 L414.5 218.1 L465.8 234.3 L533.6 255.1 L584.9 270.0 L653.1 286.9 L739.2 305.7 L820.0 321.9 M820.0 321.9 L927.1 337.2 L1053.8 356.0 L1160.9 364.8 L1242.1 370.3 L1326.5 373.9 L1409.3 374.5 L1409.3 350.2 L1420.6 353.4 L1422.3 364.8 L1427.1 384.3 L1433.6 390.8 L1453.1 394.0 L1464.5 400.5 L1472.6 401.2 L1485.6 395.0 L1501.8 397.3 L1514.8 403.8 L1521.3 415.1 L1531.0 411.9 L1544.0 418.4 L1558.6 427.1 L1570.0 423.2 L1579.7 417.4 L1591.1 421.6 L1609.0 420.6 L1620.0 421.6 M2283.2 501.2 L2414.7 463.8 M268.4 1227.4 L390.1 1248.5 L385.3 1259.9 L565.5 1376.1 L672.6 1394.6 L716.4 1402.7 L722.9 1376.1 L805.7 1387.1 L820.0 1389.7 M2446.2 350.0 L2447.1 360.5 L2443.6 370.9 L2444.5 383.2 L2448.9 393.6 L2447.1 404.1 L2441.0 412.8 L2437.5 421.6 L2441.0 428.5 L2434.9 435.5 L2427.9 440.7 L2417.5 444.2 L2414.8 461.7 M2459.3 290.4 L2469.8 290.4 L2471.6 299.1 L2478.5 301.8 L2487.3 294.8 L2499.5 284.3 L2511.7 286.9 L2523.9 292.2 L2530.9 309.6 L2539.6 334.0 L2548.3 358.5 L2550.1 368.9 L2557.1 372.4 L2564.9 367.2 L2570.2 372.4 L2572.8 381.2 L2575.4 389.9 L2579.7 395.1 L2587.6 392.5 M2459.3 290.4 L2452.4 318.3 L2446.2 335.8 L2444.5 348.0 L2447.1 360.2 L2443.6 370.7 L2444.5 382.9 L2448.9 393.4 L2447.1 403.8 L2441.0 412.6 L2437.5 421.3 L2441.0 427.9 M1619.5 420.7 L1624.7 426.0 L1631.7 426.9 L1639.5 425.1" stroke-width="4.17" stroke-dasharray="4.2 1.1 4.2 1.54"/>
<path d="M227.8 295.0 L231.0 306.4 L222.9 319.4 L214.8 327.5 L218.7 334.0 L208.3 364.8 L196.9 390.8 L184.0 416.8 L172.6 442.7 L159.6 468.7 L149.9 483.3 L141.8 489.8 L132.0 504.4 L122.3 515.8 L123.2 530.4 L117.4 546.6 L115.1 559.6 L119.0 569.4 L112.5 580.7 L114.2 592.1 L107.7 608.3 L99.5 621.3 L89.8 637.5 L80.1 649.9 M1956.0 192.7 L1962.5 186.2 L1969.0 179.7 M1993.4 179.7 L2004.7 191.1 L2012.9 196.0 L2017.7 202.5 M80.1 650.0 L75.8 664.6 L83.3 682.5 L88.2 698.7 L86.6 713.3 L80.1 724.7 L79.1 740.9 L74.5 753.9 L80.1 766.9 L86.6 783.1 L92.1 791.2 L93.1 802.6 L96.3 809.1 L88.2 817.2 L97.9 828.6 L107.7 838.3 L102.8 851.3 L100.5 861.0 L101.2 874.0 L99.5 883.8 L105.1 890.3 L117.4 895.1 L120.6 904.9 L116.8 911.4 L108.3 917.9 L105.1 930.8 L110.9 942.2 L117.4 961.7 L121.3 979.5 L128.8 990.9 L135.3 1002.3 L132.0 1013.6 L140.8 1021.8 L136.9 1034.7 L133.6 1047.7 L130.4 1054.2 L136.9 1064.0 L154.7 1068.8 L167.7 1076.9 L179.1 1080.2 L187.2 1088.3 L192.1 1094.8 L192.7 1101.3 L201.8 1109.4 L211.6 1115.9 L224.5 1119.2 L227.8 1129.9 M108.3 838.3 L110.9 825.3 L114.2 818.8 L119.0 818.8 L125.5 825.3 L135.3 826.9 L145.0 835.1 L156.4 837.7 L145.0 835.7 L133.6 827.9 L117.4 828.6 L114.2 838.3 L117.4 851.3 L120.6 862.7 L114.2 857.8 L109.3 848.1 L108.3 838.3 M227.8 1130.0 L224.5 1138.1 L231.0 1141.4 L235.9 1139.7 L242.4 1144.6 L247.3 1152.7 L255.4 1162.5 L261.9 1173.8 L266.8 1183.6 L269.4 1193.3 L270.0 1203.1 L266.8 1209.5 L265.1 1219.3 L270.6 1220.9 L268.4 1240.4 L273.9 1251.8 L273.9 1264.7 L279.7 1272.9 L284.6 1277.7 L283.0 1282.6 L276.5 1282.6 L279.7 1285.8 L277.1 1294.0 L283.0 1306.9 L287.9 1321.6 L286.2 1332.9 L296.0 1347.5 L294.4 1360.5 L292.7 1371.9 L300.8 1380.0 L299.2 1393.0 L296.0 1402.7 L299.2 1406.0 L299.9 1415.7 L309.0 1427.1 L320.3 1441.7 L331.7 1448.2 L339.8 1462.8 L347.9 1477.4 L357.7 1496.9 L365.8 1508.2 L367.4 1518.0 L360.9 1532.6 L354.4 1542.3 L347.9 1548.8 L334.9 1552.1 L321.9 1548.8 L305.7 1542.3 L305.1 1547.2 L315.5 1561.8 L326.8 1576.4 L327.8 1587.8 L336.6 1597.5 L344.7 1602.4 L351.2 1609.9 M372.3 1297.2 L377.1 1310.2 L372.3 1316.7 L367.4 1329.7 L363.5 1342.7 L366.8 1357.3 L365.8 1380.0 L364.2 1389.7 L360.9 1402.7 L364.2 1415.7 L370.6 1428.7 L380.4 1438.4 L386.9 1451.4 L396.6 1464.4 L403.1 1480.6 L405.7 1495.3 L411.2 1496.9 L412.9 1505.0 L417.7 1506.6 L420.0 1524.5 L430.7 1532.6 L429.7 1542.3 L432.3 1552.1 L431.7 1569.9 L438.8 1582.9 L448.6 1595.9 L450.2 1609.9 M372.3 1297.2 L385.3 1306.9 L393.4 1316.7 L404.7 1328.1 L414.5 1329.7 L419.4 1324.8 L430.7 1334.5 L431.7 1345.9 L445.3 1354.0 L459.9 1362.1 L458.3 1370.3 L454.4 1370.3 L451.8 1386.5 L455.1 1402.7 L459.9 1422.2 L460.9 1438.4 L464.8 1454.7 L471.3 1470.9 L470.6 1483.9 L477.8 1488.8 L477.8 1503.4 L487.5 1519.6 L490.8 1532.6 L497.3 1545.6 L507.0 1552.1 L513.5 1568.3 L521.6 1582.9 L531.4 1589.4 L539.5 1587.8 L552.5 1594.3 L546.0 1609.9 M2363.5 1130.0 L2347.3 1134.9 L2327.8 1143.0 L2311.6 1151.1 L2300.2 1165.7 L2293.7 1181.9 L2292.1 1196.6 L2269.4 1201.4 L2256.4 1212.8 L2246.6 1227.4 L2240.1 1243.6 L2236.9 1258.2 L2223.9 1269.6 L2214.2 1285.8 L2201.2 1298.8 L2184.9 1308.6 L2175.2 1310.2 L2176.8 1321.6 L2168.7 1337.8 L2160.6 1350.8 L2155.7 1370.3 L2152.5 1389.7 L2147.6 1399.5 L2147.6 1422.2 L2152.5 1435.2 L2159.0 1451.4 L2171.9 1480.6 L2188.2 1506.6 L2204.4 1527.7 L2220.6 1548.8 L2227.1 1558.6 L2230.4 1578.1 L2240.1 1597.5 L2249.9 1609.9 M1624.6 1563.0 L1628.9 1560.4 L1629.8 1567.4 L1635.9 1574.4 L1628.1 1577.9 L1636.8 1579.6 L1649.0 1583.1 L1659.5 1586.6 L1663.0 1584.0 L1666.5 1577.9 L1671.7 1575.2 L1678.7 1575.2 L1683.0 1578.7 L1685.6 1584.8 L1688.3 1587.5 L1693.5 1583.1 L1695.8 1574.4 L1696.1 1567.4 L1689.1 1559.5 L1697.9 1560.4 L1704.8 1563.0 L1710.1 1567.4 L1711.8 1570.9 L1718.8 1571.2 L1724.0 1574.4 L1731.0 1577.9 L1735.4 1584.8 L1734.5 1591.0 L1741.5 1584.8 L1746.7 1588.3 L1748.5 1583.1 L1754.6 1578.7 L1749.3 1574.4 L1743.2 1568.3 L1732.8 1565.6 L1724.0 1563.0 L1717.1 1558.7 L1712.7 1552.6 L1715.3 1548.2 L1722.3 1545.6 L1720.6 1542.1 L1725.8 1541.2 L1732.8 1538.6 L1730.2 1532.5 L1727.5 1525.5 L1720.6 1527.3 L1717.9 1533.4 L1711.8 1534.2 L1705.7 1528.1 L1710.1 1523.8 L1717.1 1520.3 L1724.0 1515.0 L1731.0 1505.4 L1736.3 1505.4 L1745.0 1502.8 L1753.7 1498.5 L1758.9 1499.3 L1765.1 1501.4 L1774.7 1499.7 L1785.1 1498.5 L1794.7 1498.1 L1797.3 1485.4 L1800.0 1477.5 L1804.3 1481.9 L1806.1 1491.5 L1811.3 1495.0 L1814.8 1500.2 L1823.5 1502.0 L1828.8 1495.8 L1831.4 1491.5 L1832.2 1498.5 L1839.2 1495.8 L1846.2 1492.4 L1847.9 1481.9 L1854.9 1479.3 L1858.4 1486.2 L1850.6 1492.4 L1846.2 1495.8 L1860.2 1492.4 L1872.4 1488.9 L1879.4 1485.4 L1886.3 1481.0 L1895.1 1480.1 L1903.8 1482.8 L1888.1 1486.2 L1900.3 1489.7 L1916.0 1494.1 L1926.5 1497.6 L1926.5 1490.6 L1932.6 1488.0 L1930.0 1497.6 L1940.4 1504.6 L1950.9 1511.6 L1953.5 1518.5 L1950.9 1524.6 L1961.4 1522.0 L1971.9 1518.5 L1982.3 1511.6 L1990.0 1507.2 L1999.9 1501.8 L2004.7 1492.0 L2019.4 1487.1 L2040.5 1495.3 L2051.8 1506.6 L2066.4 1521.2 L2084.3 1532.6 L2097.3 1542.3 L2107.0 1552.1 L2110.3 1578.1 L2108.6 1609.9 M352.8 1490.0 L360.9 1503.0 L365.8 1511.1 L367.4 1519.2 L360.9 1532.2 L351.2 1543.6 L344.7 1548.4 L334.9 1551.7 L321.9 1548.4 L305.7 1541.9 L304.4 1548.4 L315.5 1561.4 L326.8 1576.0 L326.8 1585.8 L333.3 1593.9 L344.7 1598.8 L349.5 1608.5 L359.3 1612.7 L364.2 1626.4 L368.1 1631.2 L377.1 1629.0 L386.9 1630.3 L395.0 1622.5 L394.0 1636.1 L396.6 1645.8 L404.7 1657.2 L414.5 1668.6 L429.7 1678.3 L434.0 1691.3 L437.9 1705.9 L436.6 1717.3 L438.2 1723.8 L434.0 1736.8 L429.1 1748.1 L425.8 1759.5 L429.1 1767.6 L440.5 1780.6 L440.5 1787.1 L446.9 1790.3 L453.4 1801.7 L464.8 1813.1 L477.8 1826.0 L487.5 1840.6 L497.3 1853.6 L513.5 1865.0 L518.4 1879.6 L521.6 1895.8 L523.2 1912.1 L529.7 1916.9 L539.5 1912.1 L549.2 1905.6 L560.6 1902.3 L567.1 1884.5 L562.2 1874.7 L552.5 1868.2 L551.8 1858.5 L546.0 1845.5 L536.2 1830.9 L528.1 1821.2 L523.2 1819.5 L521.6 1830.9 L516.8 1834.2 L513.5 1827.7 L507.0 1822.8 L502.1 1809.8 L502.1 1796.8 L508.6 1783.8 L506.4 1772.5 L498.9 1756.2 L496.6 1736.8 L489.2 1731.9 L484.3 1717.3 L485.9 1697.8 L484.3 1675.1 L482.7 1657.2 L471.3 1642.6 L467.4 1643.2 L461.6 1634.5 L461.6 1626.4 L451.8 1616.6 L449.2 1597.1 L438.8 1584.2 L430.7 1571.2 L432.3 1554.9 L431.7 1533.8 L420.0 1527.3 L417.7 1507.9 L411.2 1504.6 L403.1 1490.0 M479.4 1490.0 L481.0 1506.2 L489.2 1520.8 L490.8 1532.2 L497.3 1545.2 L507.0 1553.3 L513.5 1569.5 L521.6 1582.5 L531.4 1589.0 L539.5 1587.4 L552.5 1595.5 L546.0 1610.1 L547.6 1626.4 L555.7 1639.4 L576.8 1649.1 L578.4 1665.3 L584.9 1676.7 L597.9 1677.7 L609.3 1694.5 L610.3 1704.3 L614.2 1710.8 L604.4 1710.8 L594.0 1722.1 L593.1 1740.0 L599.5 1749.7 L610.9 1749.7 L622.3 1746.5 L609.3 1757.9 L614.2 1759.5 L624.5 1758.8 L627.1 1767.6 L641.8 1779.0 L651.5 1787.1 L664.5 1795.2 L651.5 1793.6 L661.2 1811.4 L662.2 1821.2 L669.4 1829.3 L682.3 1835.8 L688.8 1837.4 L687.2 1845.5 L708.3 1868.2 L718.1 1882.9 L727.8 1902.3 L734.3 1912.1 L741.4 1928.3 L752.1 1941.3 M1624.6 1563.0 L1615.8 1561.3 L1610.6 1556.9 L1605.4 1550.3 L1596.6 1549.9 L1593.2 1545.6 L1583.6 1549.1 L1579.2 1555.2 L1582.7 1561.3 L1574.0 1564.3 L1560.0 1563.9 L1550.5 1563.1 L1534.3 1554.9 L1518.1 1551.0 L1501.8 1551.7 L1488.8 1553.3 L1482.3 1558.2 L1469.4 1559.8 L1453.1 1566.3 L1436.9 1576.0 L1420.6 1589.0 L1414.2 1597.1 L1404.4 1606.9 L1388.2 1616.6 L1371.9 1626.4 L1355.7 1632.9 L1342.7 1641.0 L1326.5 1650.7 L1313.5 1662.1 L1303.8 1678.3 L1295.6 1694.5 L1289.2 1710.8 L1287.5 1723.8 L1289.2 1740.0 L1294.0 1762.7 L1298.9 1782.2 L1300.5 1791.9 L1298.9 1809.8 L1292.4 1824.4 L1284.3 1840.6 L1277.8 1856.9 L1271.3 1879.6 L1266.4 1899.1 L1263.2 1921.8 L1261.6 1941.3 M1427.1 1579.3 L1422.3 1559.8 L1430.4 1556.6 L1438.5 1554.9 L1438.5 1566.3 L1449.9 1567.9 M1368.7 1626.4 L1349.2 1623.8 L1339.5 1626.4 L1333.0 1619.9 L1337.9 1637.7 L1344.4 1641.0 M1287.5 1714.0 L1278.4 1730.3 L1284.3 1759.5 L1290.8 1775.7 L1297.3 1787.1 M1287.5 1710.8 L1269.7 1710.8 L1266.4 1697.8 L1282.7 1705.9 L1292.4 1684.8 L1287.5 1676.7 L1307.0 1671.8 L1311.9 1658.8 L1303.8 1657.2 L1316.8 1652.3 L1321.6 1639.4 L1326.5 1650.7 M2107.0 1551.7 L2109.6 1574.4 L2107.0 1597.1 L2105.4 1616.6 L2110.3 1624.7 L2118.4 1619.9 L2113.5 1610.1 L2121.6 1611.8 L2131.4 1613.4 L2124.9 1632.9 L2116.8 1639.4 L2126.5 1649.1 L2136.2 1665.3 L2147.6 1676.7 L2154.1 1676.7 L2152.5 1668.6 L2162.2 1666.9 L2160.6 1684.8 L2162.2 1697.8 L2155.7 1696.2 L2165.5 1701.0 L2171.9 1684.8 L2175.2 1683.2 L2170.3 1694.5 L2178.4 1701.0 L2184.9 1717.3 L2194.7 1727.0 L2210.9 1731.9 L2220.6 1746.5 L2230.4 1759.5 L2238.5 1761.1 L2241.8 1766.0 L2230.4 1766.0 L2233.6 1772.5 L2246.6 1769.2 L2261.2 1766.0 L2271.0 1757.9 L2277.5 1749.7 L2274.2 1740.0 L2280.7 1717.3 L2279.1 1691.3 L2277.5 1671.8 L2272.6 1652.3 L2262.9 1632.9 L2249.9 1610.1 L2236.9 1587.4 L2227.1 1567.9 L2220.6 1551.7 L2204.4 1532.2 L2188.2 1509.5 L2175.2 1490.0 M2488.7 600.0 L2482.6 612.2 L2488.7 613.2 L2495.8 612.2 L2502.9 619.3 L2509.0 624.4 L2508.0 627.4 L2513.1 629.4 L2517.1 635.5 L2523.2 637.5 L2531.3 636.5 L2539.4 633.5 L2542.5 630.4 L2541.5 626.4 L2536.4 618.3 L2529.3 614.2 L2523.2 615.2 L2527.3 613.8 L2535.4 616.2 L2542.5 625.4 L2544.5 632.5 L2543.5 636.1 L2533.4 641.6 L2523.2 647.7 L2519.2 650.7 L2514.1 649.7 L2516.1 645.7 L2512.1 642.6 L2507.0 648.7 L2498.9 656.8 L2492.8 660.9 L2489.7 664.9 L2488.7 658.8 L2490.7 648.7 L2487.7 647.7 L2483.6 657.8 L2481.6 647.7 L2478.6 648.7 L2479.6 660.9 L2484.7 668.0 L2480.6 673.1 L2472.5 678.1 L2462.3 682.2 L2454.2 686.2 L2444.1 689.3 L2438.0 693.3 L2429.9 695.4 L2419.7 698.4 L2413.6 704.5 L2405.5 710.6 L2397.4 717.7 L2391.3 724.8 L2385.2 733.9 L2381.2 742.0 L2378.1 748.1 L2374.1 752.2 L2372.0 758.3 L2375.1 762.3 L2381.2 760.3 L2387.3 760.3 L2390.3 768.4 L2391.3 780.6 L2393.3 792.8 L2392.3 805.0 L2389.3 815.1 L2384.2 820.2 L2383.2 829.3 L2378.1 836.4 L2376.1 843.5 L2373.1 853.7 L2369.0 860.8 L2365.9 861.8 L2365.3 848.6 L2358.8 846.6 L2352.8 846.6 L2342.6 842.5 L2334.5 837.4 L2328.4 829.3 L2327.4 820.2 L2332.5 812.1 L2341.6 807.0 L2345.7 799.9 L2348.7 795.8 M2374.1 712.6 L2380.2 717.7 L2382.2 725.8 L2381.2 738.0 L2379.1 746.1 M2328.4 830.3 L2332.5 839.4 L2339.6 846.6 L2343.6 857.7 L2352.8 867.9 L2360.9 872.9 L2363.9 878.0 L2364.9 884.1 L2370.0 890.2 L2371.0 899.9 M2485.5 607.9 L2489.0 597.8 L2496.0 590.0 L2495.1 586.5 L2490.7 587.3 L2485.5 583.8 L2482.0 578.6 L2483.8 569.9 L2482.0 563.8 L2485.5 555.9 L2485.5 545.5 L2490.7 535.0 L2495.1 526.3 L2491.6 523.6 L2493.4 515.8 L2499.5 508.8 L2504.7 510.6 L2509.1 511.4 L2511.7 504.4 L2506.5 503.6 L2511.7 496.6 L2520.4 498.3 L2523.9 491.4 L2529.1 488.7 L2533.5 481.8 L2532.6 472.2 L2530.9 461.7 L2536.1 454.7 L2537.0 450.3 L2539.6 458.2 L2538.7 465.2 L2544.8 464.3 L2548.3 472.2 L2550.1 465.2 L2553.6 461.7 L2550.1 454.7 L2551.0 449.5 L2554.4 452.1 L2557.1 459.9 L2562.3 461.7 L2564.0 454.7 L2560.6 447.7 L2567.5 450.3 L2572.8 445.1 L2574.5 436.4 L2581.5 435.5 L2584.1 429.4 L2590.2 422.4 L2598.9 419.8 L2602.4 412.8 L2604.2 408.5 L2600.7 406.7 L2597.2 400.6 L2592.8 393.6 L2587.6 391.9 M2587.6 391.9 L2593.7 392.8 L2598.9 391.0 L2603.3 395.0 L2612.0 390.1 L2618.1 384.0 L2622.5 383.2 L2626.9 376.2 L2630.4 370.9 L2625.1 367.5 L2630.4 362.2 L2631.2 367.5 L2638.2 371.8 L2644.3 366.6 L2651.3 358.7 L2658.3 350.0 M2686.2 350.0 L2679.2 358.7 L2670.5 370.9 L2661.8 384.9 L2656.5 397.1 L2652.2 405.8 L2651.3 419.8 L2649.6 432.0 L2652.2 439.0 L2658.3 447.7 L2661.8 454.7 L2666.1 456.5 L2667.9 451.2 L2674.0 454.7 L2682.7 463.4 L2689.7 461.7 L2693.2 458.2 L2699.3 456.5 L2696.7 449.5 L2700.2 444.2 L2706.3 442.5 L2712.4 428.5 L2717.6 412.8 L2721.1 402.4 L2724.6 395.4 L2720.2 390.1 L2719.4 383.2 L2726.3 381.4 L2729.0 372.7 L2735.1 374.4 L2742.0 377.0 L2749.0 374.4 L2748.2 367.5 L2743.8 364.8 L2750.8 363.1 L2757.8 360.5 L2763.9 354.4 L2770.0 350.0 M2667.0 389.3 L2660.0 397.1 L2651.3 405.8 L2646.9 416.3 L2642.9 423.3 L2643.4 432.9 M2466.3 179.6 L2459.3 185.7 L2453.2 193.6 L2452.4 199.7 L2444.5 208.4 L2440.1 220.6 L2437.5 232.8 L2434.9 243.3 L2429.7 254.6 L2424.4 257.3 L2400.0 255.5 M2400.0 259.0 L2426.2 260.7 L2427.9 271.2 L2426.2 281.7 L2422.7 292.2 L2417.5 306.1 L2411.3 318.3 L2407.0 330.6 L2400.0 337.5 M2508.2 179.6 L2497.7 189.2 L2487.3 201.4 L2476.8 210.1 L2468.1 220.6 L2459.3 231.1 L2452.4 243.3 L2445.4 257.3 L2440.1 267.7 L2436.6 283.4 L2430.5 299.1 L2425.3 311.4 L2420.9 323.6 L2414.0 334.0 L2405.2 342.8 L2400.0 351.5 M2618.1 179.6 L2616.4 184.8 L2611.2 190.9 L2605.9 197.9 L2600.7 203.2 L2592.0 204.9 L2581.5 204.0 L2572.8 202.3 L2568.4 208.4 L2560.6 211.9 L2553.6 213.6 L2548.3 220.6 L2544.0 225.8 L2551.8 218.9 L2558.8 216.2 L2571.0 217.1 L2581.5 216.2 L2586.7 218.9 L2593.7 225.8 L2597.2 227.6 L2602.4 224.1 L2606.8 216.2 L2614.7 209.3 L2625.1 209.3 L2627.7 201.4 L2630.4 190.9 L2633.8 192.7 L2634.7 203.2 L2631.2 210.1 L2629.5 218.9 L2631.2 231.1 L2626.9 243.3 L2619.9 255.5 L2626.9 253.8 L2632.1 250.3 L2640.0 250.3 L2642.6 260.7 L2651.3 270.3 L2661.8 281.7 L2669.6 290.4 L2679.2 287.8 L2687.9 286.1 L2700.2 287.8 L2694.9 295.6 L2694.9 298.3 L2707.1 295.6 L2714.1 300.0 L2724.6 295.6 L2731.6 298.3 L2742.0 293.0 L2754.3 290.4 L2756.0 294.8 L2766.5 291.3 L2771.7 283.4 L2776.9 274.7 L2780.4 270.3 L2789.2 278.2 L2799.6 275.6 L2806.6 273.0 L2818.8 277.3 M2818.8 186.6 L2808.4 184.8 L2803.1 189.2 L2797.9 199.7 L2796.1 215.4 L2793.5 231.1 L2790.9 245.0 L2794.4 255.5 L2801.4 266.0 L2810.1 272.1 L2818.8 274.7 M2658.3 349.7 L2667.0 337.5 L2674.0 328.8 L2679.2 320.1 L2679.2 314.8 L2672.2 309.6 L2679.2 311.4 L2686.2 307.9 L2690.6 304.4 M2690.6 304.4 L2686.2 318.3 L2682.7 327.1 L2679.2 337.5 L2675.7 344.5 L2677.5 348.0 L2684.5 344.5 L2693.2 337.5 L2703.7 334.0 L2717.6 327.1 L2728.1 322.7 L2737.7 321.8 L2731.6 327.1 L2722.8 332.3 L2714.1 338.4 L2712.4 344.5 L2715.9 355.0 L2710.6 352.4 L2707.1 346.3 L2700.2 344.5 L2694.9 342.8 L2686.2 353.2 L2675.7 368.9 L2665.3 384.7 L2658.3 395.1 M2818.8 302.6 L2810.1 309.6 L2801.4 318.3 L2792.7 327.1 L2783.9 335.8 L2775.2 342.8 L2766.5 351.5 L2757.8 358.5 L2747.3 363.7 L2742.0 365.5 L2749.0 370.7 L2742.0 376.8 L2735.1 374.2 L2729.0 372.4 L2728.1 379.4 L2720.2 382.9 L2722.8 391.6 L2724.6 395.1 L2720.2 400.4 M2394.6 800.0 L2392.8 808.7 L2389.3 817.5 L2382.4 818.3 L2383.2 826.2 L2378.0 834.0 L2376.3 837.5 L2374.5 845.4 L2371.9 854.1 L2367.5 861.1 L2364.9 861.1 L2364.9 850.6 L2362.3 847.1 L2355.3 846.2 L2350.1 845.4 L2343.1 842.8 L2337.9 841.0 L2332.6 837.5 L2328.3 832.3 L2325.6 827.0 L2328.3 819.2 L2332.6 812.2 L2339.6 807.9 L2344.8 800.0 M2327.4 832.3 L2332.6 838.4 L2339.6 845.4 L2342.2 852.4 L2346.6 859.3 L2353.6 866.3 L2360.6 871.6 L2364.0 873.3 L2363.2 882.0 L2360.6 885.5 L2365.8 887.3 L2370.2 891.6 L2371.0 899.5 L2370.2 904.7 L2368.4 911.7 L2366.7 922.2 L2363.2 930.0 L2360.6 930.9 L2361.4 922.2 L2357.9 922.2 L2357.1 936.1 L2355.3 948.3 L2357.9 950.1 L2353.6 954.4 L2350.1 958.8 L2349.2 967.5 L2348.3 974.5 L2347.5 979.7 L2344.8 978.9 L2341.4 972.8 L2340.5 962.3 L2342.2 950.1 L2345.7 939.6 L2349.2 930.9 L2349.2 924.8 L2343.1 930.9 L2337.9 930.0 L2339.6 924.8 L2334.4 920.4 L2331.8 918.7 L2333.5 911.7 L2333.5 905.6 L2329.1 909.1 L2324.8 914.3 L2316.9 910.8 L2311.7 904.7 L2309.9 897.7 L2313.4 895.1 L2320.4 895.1 L2323.9 893.4 L2315.2 890.7 L2309.9 888.1 L2305.6 890.7 L2304.7 883.8 L2309.1 880.3 L2304.7 876.8 L2303.0 873.3 L2308.2 869.8 L2309.1 864.6 L2303.0 862.8 L2303.0 855.8 L2306.5 849.7 L2311.7 847.1 L2318.7 845.7 L2311.7 841.0 L2308.2 837.5 L2304.7 837.5 L2306.5 843.6 L2299.5 847.1 L2296.0 852.4 L2294.2 858.5 L2286.4 861.1 L2292.5 865.4 L2295.1 869.8 L2289.9 872.4 L2294.2 877.7 L2295.1 887.3 L2297.7 895.1 L2302.1 902.1 L2308.2 909.9 L2302.1 906.5 L2295.1 903.0 L2290.7 901.2 L2292.5 906.5 L2299.5 913.4 L2306.5 918.7 L2313.4 923.9 L2315.2 928.3 L2308.2 925.6 L2297.7 922.2 L2289.0 921.3 L2284.6 916.1 L2282.0 918.7 L2277.7 914.3 L2271.6 916.1 L2269.8 922.2 L2265.4 923.9 L2263.7 920.4 L2263.7 908.2 L2268.1 901.2 L2270.7 896.0 L2271.6 889.0 L2269.8 885.5 M2276.8 931.8 L2287.3 934.4 L2297.7 934.4 L2308.2 934.4 L2318.7 937.9 L2322.2 943.1 L2321.3 950.1 L2318.7 953.6 L2311.7 951.8 L2304.7 948.3 L2296.0 942.2 L2287.3 936.1 L2276.8 931.8 M2303.0 967.5 L2308.2 972.8 L2315.2 976.3 L2322.2 976.3 L2324.8 971.9 L2329.1 970.2 L2327.4 962.3 L2322.2 957.1 L2318.7 954.4 M2281.1 984.1 L2287.3 983.2 L2297.7 982.4 L2311.7 984.1 L2316.9 991.1 L2322.2 993.7 L2327.4 995.5 L2331.8 992.0 L2332.6 987.6 L2327.4 983.2 L2320.4 978.0 L2322.2 976.3 M2313.4 988.5 L2315.2 993.7 L2320.4 997.2 L2324.8 1001.6 L2330.9 998.9 L2336.1 993.7 L2348.3 993.4 L2352.7 1000.7 L2355.3 1007.7 L2365.8 1025.1 L2374.5 1039.1 L2383.2 1049.6 L2392.0 1057.9 M2353.6 1008.5 L2352.7 1016.4 L2357.1 1025.1 L2364.0 1033.8 L2369.3 1040.8 M2350.1 1000.0 L2357.1 1008.7 L2364.0 1020.9 L2371.0 1033.2 L2379.7 1043.6 L2388.5 1055.8 L2393.7 1066.3 L2396.3 1076.8 L2397.2 1085.5 L2392.8 1089.0 L2387.6 1091.6 M2383.2 1095.1 L2374.5 1101.2 M2353.6 1007.9 L2352.7 1017.5 L2357.1 1024.4 L2364.0 1033.2 L2371.0 1040.1 L2378.0 1050.6 L2382.4 1055.0 M2362.3 1034.9 L2351.8 1037.5 L2349.2 1033.2 L2351.8 1039.3 L2347.5 1041.0 L2350.1 1045.4 L2341.4 1045.4 L2338.7 1052.4 L2329.1 1053.2 L2324.8 1052.4 L2321.3 1042.8 L2323.9 1052.4 L2326.5 1060.2 L2332.6 1059.3 L2343.1 1055.8 L2351.8 1051.5 L2358.8 1050.6 L2359.7 1059.3 L2361.4 1068.1 L2364.9 1067.2 L2365.8 1057.6 L2364.0 1052.4 L2370.2 1048.9 L2374.5 1051.5 L2378.0 1061.1 L2378.0 1067.2 L2372.8 1075.0 L2367.5 1083.8 L2363.2 1089.0 L2353.6 1089.9 L2344.8 1089.0 L2342.2 1083.8 L2338.7 1083.8 L2337.9 1089.0 L2332.6 1090.7 L2323.9 1089.9 L2316.9 1088.7 L2325.6 1094.2 L2337.9 1096.0 L2347.5 1098.6 L2344.8 1104.7 L2344.0 1111.7 L2337.9 1116.9 L2329.1 1115.2 L2320.4 1110.8 L2329.1 1120.4 L2337.9 1121.3 L2346.6 1116.9 L2353.6 1114.3 L2359.7 1116.1 L2357.9 1122.2 L2354.4 1127.4 L2344.8 1131.8 L2348.3 1132.6 L2357.1 1129.1 L2367.5 1114.3 L2357.1 1137.9 L2348.3 1136.1 L2339.6 1135.2 L2330.9 1138.7 L2323.9 1139.6 L2318.7 1147.5 L2313.4 1148.3 L2309.1 1140.5 L2311.7 1151.8 L2315.2 1153.6 L2308.2 1161.4 L2301.2 1170.2 L2296.9 1178.0 L2295.1 1185.0 L2295.6 1195.5 L2292.5 1197.2 L2289.9 1181.5 L2291.6 1196.3 L2283.8 1198.1 L2271.6 1200.7 L2262.8 1205.1 L2254.1 1213.8 L2247.1 1223.4 L2241.9 1233.8 L2239.3 1244.3 L2238.4 1257.9 M239.0 290.0 L234.9 287.7 L230.0 283.6 L226.0 286.9 L227.6 282.0 L229.6 274.7 L230.4 267.4 L230.0 259.3 L231.2 251.2 L232.9 243.1 L232.5 234.9 L230.0 228.4 L228.4 222.8 L229.2 215.5 L231.2 209.0 L234.1 202.5 L235.3 197.2 L239.0 198.4 L243.8 203.3 L248.7 208.1 L252.8 212.2 L255.2 216.7 L260.1 220.3 L266.6 223.6 L273.1 226.8 L279.5 230.1 L285.2 232.9 L291.7 232.5 L293.3 235.7 L295.8 239.0 L299.8 239.8 L304.7 238.6 L303.9 243.1 L303.5 247.9 L304.7 252.0 L295.8 257.3 L289.3 261.7 L281.2 267.4 L275.5 273.1 L273.1 278.0 L276.3 279.2 L284.4 278.4 L281.2 274.7 L287.7 269.8 L295.8 265.8 L302.3 261.7 L308.0 258.5 M320.1 179.7 L321.8 188.7 L321.8 196.8 L320.9 204.1 L326.6 204.1 L326.6 210.6 L324.2 218.7 L320.1 221.9 L316.1 220.3 L315.3 222.8 L320.1 226.8 L322.6 234.1 L319.3 237.4 L320.9 241.4 L321.8 247.1 L324.2 251.2 L320.9 256.0 L315.3 260.9 L312.8 267.4 L310.4 274.7 L308.0 282.0 L305.5 290.0 M234.9 179.3 L245.5 188.7 L255.2 197.6 L264.9 205.7 L273.1 212.2 L277.9 216.3 L281.2 215.0 L284.4 212.2 L287.7 214.2 L290.1 215.5 L291.7 212.2 L291.7 202.5 M299.2 256.0 L286.2 264.2 L276.5 273.9 L274.9 278.8 L283.0 278.8 M214.8 327.5 L231.0 330.7 L240.8 338.8 L247.3 345.3 L252.1 347.9 M218.7 334.0 L231.0 336.2 L242.4 343.7 L248.9 347.9 M2419.6 306.4 L2409.9 329.1 L2393.6 351.8 L2370.9 369.7 L2357.9 384.3 L2341.7 407.0 L2331.9 416.8 L2325.5 439.5 L2319.0 455.7 L2302.7 475.2 L2283.2 501.2 M2422.9 325.8 L2406.6 345.3 L2387.1 361.6 L2367.7 372.9 L2354.7 390.8 L2338.4 411.9 L2328.7 429.7 L2323.8 449.2 L2325.5 462.2 L2306.0 478.4 L2283.2 501.2 M2431.0 255.1 L2400.1 253.8 L2370.9 256.0 L2400.1 258.3 L2431.0 259.3 M291.7 180.1 L296.6 186.2 L297.8 190.3 L294.6 195.2 L293.3 204.1 L292.5 210.6 M316.9 226.8 L321.8 231.7 L320.1 237.4 L317.7 240.6 L320.9 244.7 L321.8 249.5 L318.5 254.4 L315.3 259.3 M312.2 254.4 L305.7 267.4 L302.5 280.4 L296.0 290.1 L286.2 298.2 L276.5 293.4 L279.7 283.6 L296.0 273.9 L305.7 260.9 M2351.3 400.0 L2340.8 407.0 L2333.8 412.2 L2332.1 422.7 L2328.6 434.9 L2323.4 445.4 L2325.1 459.3 L2318.1 466.3 L2305.9 475.0 L2295.5 487.3 L2281.5 501.2 M2344.3 401.7 L2335.6 410.5 L2330.4 419.2 L2326.9 433.2 L2319.9 447.1 L2309.4 457.6 L2300.7 473.3 L2290.2 489.0 L2281.5 501.2 M1711.8 1516.8 L1699.6 1511.6 L1692.6 1507.2 L1683.0 1506.0 L1676.9 1513.3 L1672.6 1522.0 L1685.6 1528.1 L1697.9 1524.6 L1702.2 1520.3 L1710.1 1519.4" stroke-width="4.17" stroke-linecap="round"/>
<path d="M130.4 1089.9 L138.5 1093.2 L143.4 1101.3 L149.9 1099.7 L148.2 1096.4 L140.1 1094.8 L133.6 1087.7 Z M156.4 1098.1 L162.9 1096.4 L174.2 1101.3 L172.6 1104.5 L161.2 1102.9 Z M344.7 1552.1 L349.5 1547.2 L354.4 1548.8 L352.8 1558.6 L356.0 1565.1 L349.5 1563.4 Z M291.1 1521.9 L297.6 1514.7 L299.2 1506.6 L304.1 1508.2 L304.1 1519.6 L299.9 1528.7 Z M145.0 1411.8 L149.9 1411.8 L151.5 1422.2 L148.2 1430.3 L145.0 1428.7 Z M158.0 1148.8 L162.9 1146.9 L166.8 1152.1 L162.2 1154.4 Z M211.6 1152.1 L216.4 1151.1 L223.9 1159.2 L223.9 1165.1 L218.1 1163.1 L214.8 1157.6 Z M202.8 1178.7 L206.7 1177.1 L211.6 1188.4 L213.8 1193.3 L208.3 1193.3 L205.1 1186.8 Z M456.7 1509.9 L464.8 1492.0 L472.9 1491.4 L474.5 1506.6 L468.1 1519.6 L461.6 1516.4 Z M408.0 1454.7 L414.5 1456.3 L417.7 1467.7 L425.8 1475.8 L425.2 1492.0 L417.7 1483.9 L409.6 1469.3 L407.0 1461.2 Z M414.5 1767.6 L422.6 1753.0 L429.1 1738.4 L429.7 1743.2 L424.2 1759.5 L422.6 1775.7 L424.2 1787.1 L419.4 1779.0 L418.7 1769.2 Z M427.5 1787.1 L437.2 1790.3 L443.7 1801.7 L438.8 1800.1 L430.7 1791.9 Z M464.8 1645.8 L469.7 1642.6 L472.9 1662.1 L469.7 1663.7 L464.2 1652.3 Z M489.2 1714.0 L494.0 1702.7 L500.5 1701.0 L498.9 1708.2 L492.4 1714.0 Z M508.6 1769.2 L513.5 1767.6 L518.4 1775.7 L516.8 1782.2 L511.9 1779.0 Z M546.6 1824.4 L549.2 1822.8 L552.5 1834.2 L549.9 1837.4 L546.9 1830.9 Z M2334.2 1651.4 L2349.8 1661.1 L2364.4 1654.0 L2383.9 1645.2 L2395.9 1641.0 L2395.3 1636.8 L2379.0 1641.0 L2364.4 1642.6 L2355.6 1640.0 L2354.0 1649.1 L2346.6 1655.6 Z M2389.7 1623.8 L2400.1 1621.5 L2413.1 1620.8 L2424.5 1628.0 L2432.6 1632.9 L2444.0 1636.1 L2450.5 1649.1 L2445.6 1658.8 L2447.2 1678.3 L2442.3 1679.9 L2432.6 1673.4 L2439.1 1665.3 L2438.4 1649.1 L2432.6 1639.4 L2419.6 1629.6 L2409.9 1624.7 L2396.9 1625.7 Z M2398.5 1735.1 L2408.2 1736.8 L2414.7 1741.6 L2418.0 1749.7 L2432.6 1759.5 L2435.8 1775.7 L2424.5 1787.1 L2416.4 1783.8 L2408.2 1780.6 L2393.6 1775.1 L2403.4 1771.8 L2400.1 1766.0 L2403.4 1749.7 Z M2424.5 1791.9 L2444.0 1786.1 L2453.7 1795.2 L2458.6 1809.8 L2456.9 1819.5 L2444.9 1821.8 L2440.7 1809.8 L2432.6 1800.1 Z M2477.4 1692.9 L2491.0 1697.8 L2507.3 1704.3 L2520.3 1714.0 L2523.5 1733.5 L2524.2 1743.2 L2513.8 1736.8 L2517.0 1730.3 L2515.4 1717.3 L2502.4 1707.5 L2487.8 1702.7 L2478.1 1702.7 Z M2437.5 1737.4 L2447.2 1731.9 L2455.3 1732.9 L2448.8 1738.4 L2440.7 1740.0 Z M2547.9 1733.5 L2552.7 1732.9 L2565.7 1748.1 L2581.9 1759.5 L2570.6 1766.0 L2572.2 1759.5 L2559.2 1749.7 L2549.5 1738.4 Z M2626.8 1751.4 L2630.6 1749.7 L2633.2 1756.2 L2630.6 1762.7 L2627.4 1761.1 Z M2546.2 1802.3 L2556.0 1804.3 L2572.2 1810.8 L2567.3 1813.1 L2552.7 1808.2 L2546.9 1806.6 Z M2586.8 1791.9 L2594.9 1798.4 L2606.3 1813.1 L2614.4 1821.2 L2627.4 1830.9 L2629.0 1835.8 L2614.4 1826.0 L2601.4 1822.8 L2604.7 1817.9 L2594.9 1804.9 Z M2659.9 1829.3 L2674.5 1832.5 L2689.1 1828.3 L2694.0 1840.6 L2685.8 1853.6 L2674.5 1869.9 L2672.2 1868.2 L2682.6 1850.4 L2687.5 1840.6 L2679.4 1836.8 L2666.4 1835.8 Z M2734.5 1834.8 L2750.8 1832.5 L2760.5 1834.8 L2758.9 1839.0 L2747.5 1837.4 L2735.2 1840.0 Z M2728.1 1928.3 L2736.2 1921.8 L2750.8 1918.6 L2760.5 1904.0 L2764.4 1904.9 L2765.4 1915.3 L2760.5 1928.3 L2744.3 1934.8 L2731.3 1938.7 Z M2755.6 1892.6 L2760.5 1887.7 L2766.4 1891.0 L2760.5 1895.8 Z M2793.0 1858.5 L2802.7 1858.5 L2806.0 1860.1 L2796.2 1865.0 Z M2809.2 1845.5 L2817.3 1843.9 L2819.0 1852.0 L2812.5 1848.8 Z M2346.6 1904.0 L2354.7 1904.9 L2367.7 1910.5 L2366.0 1913.1 L2354.7 1908.8 Z M2406.6 1910.5 L2426.1 1905.6 L2439.1 1910.5 L2461.8 1923.4 L2478.1 1926.7 L2477.4 1936.4 L2465.1 1933.2 L2452.1 1925.1 L2435.8 1915.3 L2419.6 1912.1 L2408.2 1912.1 Z M2381.2 747.1 L2387.3 729.9 L2395.4 728.9 L2405.5 722.8 L2413.6 717.7 L2425.8 712.6 L2434.9 708.6 L2442.0 703.5 L2451.2 697.0 L2445.1 703.5 L2442.0 713.6 L2450.2 707.5 L2460.3 701.5 L2469.4 698.0 L2460.3 705.5 L2450.2 713.6 L2442.0 721.8 L2431.9 727.8 L2419.7 738.0 L2409.6 741.0 L2397.4 747.1 L2388.3 751.2 L2384.2 751.8 Z M2510.0 665.9 L2515.1 660.9 L2521.2 657.8 L2525.2 658.8 L2519.2 663.9 L2513.1 668.0 Z M2536.4 660.9 L2543.5 656.8 L2546.6 651.7 L2551.6 658.8 L2545.5 661.9 Z M2610.3 408.5 L2614.7 407.6 L2617.3 413.7 L2614.7 418.9 L2611.2 420.7 Z M2666.1 262.5 L2666.1 252.0 L2669.6 239.8 L2672.6 236.3 L2675.7 243.3 L2677.5 253.8 L2686.2 257.3 L2694.9 261.6 L2707.1 258.1 L2721.1 255.5 L2735.1 247.7 L2749.0 240.7 L2759.5 238.1 L2764.7 239.8 L2759.5 248.5 L2750.8 260.7 L2752.5 266.9 L2756.9 271.2 L2749.0 277.3 L2740.3 276.5 L2735.9 270.3 L2732.4 276.5 L2731.6 267.7 L2729.0 262.5 L2722.8 270.3 L2719.4 274.7 L2710.6 278.2 L2701.0 274.7 L2696.7 267.7 L2694.9 272.1 L2686.2 274.7 L2681.0 272.1 L2677.5 265.1 L2669.6 265.1 Z M2742.0 185.7 L2747.3 180.5 L2748.2 187.5 L2754.3 189.2 L2750.8 196.2 L2743.8 195.3 Z M2096.0 1960.0 L2116.0 1941.3 L2133.9 1931.6 L2166.4 1921.8 L2182.6 1912.1 L2198.8 1906.2 L2228.1 1905.6 L2244.3 1900.7 L2250.8 1905.6 L2270.3 1899.1 L2283.2 1896.5 L2293.0 1902.3 L2306.0 1904.9 L2319.0 1900.7 L2333.6 1903.0 L2344.9 1910.5 L2357.9 1918.6 L2374.2 1925.1 L2387.1 1923.4 L2406.6 1921.2 L2429.4 1928.3 L2452.1 1935.5 L2465.1 1941.3 L2475.1 1960.0 Z M1587.9 1560.4 L1594.9 1557.3 L1601.9 1560.4 L1597.5 1568.3 L1587.9 1562.2 Z" stroke-width="4.17"/>
<path d="M2280.0 1750.0 L2275.0 1765.0 L2268.0 1777.0 L2262.0 1785.0 M2251.0 1791.6 L2257.0 1787.6 M2237.5 1800.0 L2247.5 1795.0 M2221.0 1807.2 L2225.0 1801.2 M2210.0 1812.3 L2214.0 1808.3 M2198.0 1817.9 L2204.0 1814.9" stroke-width="7" stroke-linecap="round"/>
<path d="M287.3 179.7 L287.7 194.4 L288.1 204.1" stroke-width="8" stroke-linecap="round"/><path d="M308.8 181.0 L313.6 186.2 L317.7 183.8 L320.9 185.0" stroke-width="7" stroke-linecap="round"/><path d="M315.3 226.0 L309.6 232.5 L308.8 239.0 L312.8 243.1 L311.2 249.5 L313.6 255.2 L311.2 260.9 L307.1 266.6 L303.9 274.7 L300.6 282.8 L297.4 290.0" stroke-width="8" stroke-linecap="round"/><path d="M298.2 206.5 L301.5 212.2 L305.5 217.9 L308.8 221.9" stroke-width="7" stroke-linecap="round"/><path d="M308.0 205.7 L313.6 208.1 L312.0 212.2" stroke-width="9" stroke-linecap="round"/><path d="M2307.7 454.1 L2314.7 448.9 L2321.6 447.1" stroke-width="9" stroke-linecap="round"/><path d="M2288.5 465.4 L2300.7 464.6 L2309.4 459.3" stroke-width="6" stroke-linecap="round"/><path d="M1763.3 1507.2 L1773.8 1510.7" stroke-width="5" stroke-linecap="round"/><path d="M1786.0 1507.2 L1799.1 1504.9" stroke-width="5" stroke-linecap="round"/><path d="M1803.4 1506.0 L1811.3 1504.2 L1821.8 1502.5" stroke-width="5" stroke-linecap="round"/><path d="M1757.2 1520.3 L1761.6 1527.3 L1760.7 1536.9 L1754.6 1546.5" stroke-width="5" stroke-linecap="round"/><path d="M1963.1 1526.4 L1973.6 1525.5 L1984.9 1517.7" stroke-width="5" stroke-linecap="round"/>
</g>
</g>
<rect x="30.5" y="178.5" width="2790.0" height="1763.0" fill="none" stroke="#000" stroke-width="3.33"/>
<g><rect x="2994.5" y="387.7" width="73.8" height="135.0" fill="#67001f"/><rect x="2994.5" y="522.1" width="73.8" height="135.0" fill="#b6202f"/><rect x="2994.5" y="656.5" width="73.8" height="135.0" fill="#dd6f59"/><rect x="2994.5" y="790.9" width="73.8" height="135.0" fill="#f7b799"/><rect x="2994.5" y="925.3" width="73.8" height="135.0" fill="#fae7dc"/><rect x="2994.5" y="1059.7" width="73.8" height="135.0" fill="#e2edf3"/><rect x="2994.5" y="1194.1" width="73.8" height="135.0" fill="#a7d0e4"/><rect x="2994.5" y="1328.5" width="73.8" height="135.0" fill="#559ec9"/><rect x="2994.5" y="1462.9" width="73.8" height="135.0" fill="#256baf"/><rect x="2994.5" y="1597.3" width="73.8" height="135.0" fill="#053061"/><path d="M2994.5 388.5 L3031.4 321.2 L3068.3 388.5 Z" fill="#67001f"/><path d="M2994.5 1731.5 L3031.4 1798.8 L3068.3 1731.5 Z" fill="#053061"/><path d="M2994.5 388.0 L3031.4 321.2 L3068.3 388.0 L3068.3 1732.0 L3031.4 1798.8 L2994.5 1732.0 Z" fill="none" stroke="#000" stroke-width="3.33" stroke-linejoin="miter"/><path d="M3069.9 388.0 h13.8" stroke="#000" stroke-width="3.33"/><text x="3098.6" y="403.9" font-size="43.5" textLength="64.5" lengthAdjust="spacingAndGlyphs">1.0</text><path d="M3069.9 522.4 h13.8" stroke="#000" stroke-width="3.33"/><text x="3098.6" y="538.3" font-size="43.5" textLength="64.5" lengthAdjust="spacingAndGlyphs">0.9</text><path d="M3069.9 656.8 h13.8" stroke="#000" stroke-width="3.33"/><text x="3098.6" y="672.7" font-size="43.5" textLength="64.5" lengthAdjust="spacingAndGlyphs">0.8</text><path d="M3069.9 791.2 h13.8" stroke="#000" stroke-width="3.33"/><text x="3098.6" y="807.1" font-size="43.5" textLength="64.5" lengthAdjust="spacingAndGlyphs">0.7</text><path d="M3069.9 925.6 h13.8" stroke="#000" stroke-width="3.33"/><text x="3098.6" y="941.5" font-size="43.5" textLength="64.5" lengthAdjust="spacingAndGlyphs">0.6</text><path d="M3069.9 1060.0 h13.8" stroke="#000" stroke-width="3.33"/><text x="3098.6" y="1075.9" font-size="43.5" textLength="64.5" lengthAdjust="spacingAndGlyphs">0.5</text><path d="M3069.9 1194.4 h13.8" stroke="#000" stroke-width="3.33"/><text x="3098.6" y="1210.3" font-size="43.5" textLength="64.5" lengthAdjust="spacingAndGlyphs">0.4</text><path d="M3069.9 1328.8 h13.8" stroke="#000" stroke-width="3.33"/><text x="3098.6" y="1344.7" font-size="43.5" textLength="64.5" lengthAdjust="spacingAndGlyphs">0.3</text><path d="M3069.9 1463.2 h13.8" stroke="#000" stroke-width="3.33"/><text x="3098.6" y="1479.1" font-size="43.5" textLength="64.5" lengthAdjust="spacingAndGlyphs">0.2</text><path d="M3069.9 1597.6 h13.8" stroke="#000" stroke-width="3.33"/><text x="3098.6" y="1613.5" font-size="43.5" textLength="64.5" lengthAdjust="spacingAndGlyphs">0.1</text><path d="M3069.9 1732.0 h13.8" stroke="#000" stroke-width="3.33"/><text x="3098.6" y="1747.9" font-size="43.5" textLength="64.5" lengthAdjust="spacingAndGlyphs">0.0</text></g>
<text transform="translate(3212,1060) rotate(-90)" text-anchor="middle" font-size="43.5" textLength="172" lengthAdjust="spacingAndGlyphs">Hit Rate</text>
<text x="1425.5" y="80" text-anchor="middle" font-size="69" textLength="1497" lengthAdjust="spacingAndGlyphs">Sliding Mean Hit Rate (Above Normal): NOAA</text>
<text x="1424.3" y="154.5" text-anchor="middle" font-size="69" textLength="1408" lengthAdjust="spacingAndGlyphs">Variable: T2MIN, Season: ASO, Start: 0501</text>
</svg>
</body></html>
